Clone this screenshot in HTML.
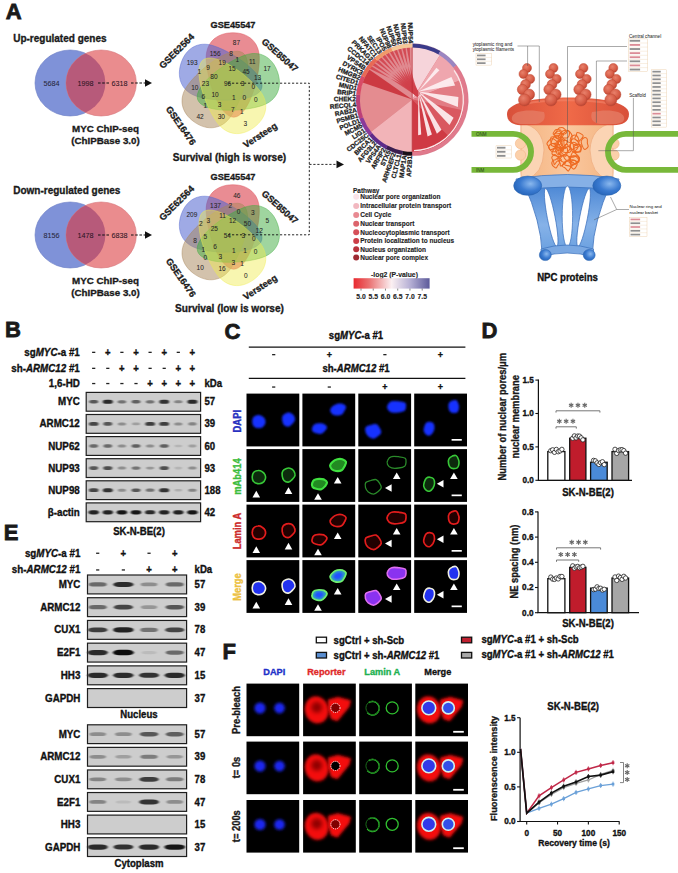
<!DOCTYPE html>
<html><head><meta charset="utf-8"><style>
html,body{margin:0;padding:0;background:#fff;}
svg{display:block;font-family:"Liberation Sans",sans-serif;}
</style></head><body>
<svg width="678" height="873" viewBox="0 0 678 873">
<defs><clipPath id="cl0"><ellipse cx="70.2" cy="83" rx="35.2" ry="33"/></clipPath><clipPath id="cl152"><ellipse cx="70.2" cy="235" rx="35.2" ry="33"/></clipPath><filter id="bb" x="-50%" y="-200%" width="200%" height="500%"><feGaussianBlur stdDeviation="0.9 0.55"/></filter><filter id="bb2" x="-50%" y="-200%" width="200%" height="500%"><feGaussianBlur stdDeviation="0.5"/></filter><filter id="b1" x="-50%" y="-50%" width="200%" height="200%"><feGaussianBlur stdDeviation="1.2"/></filter><filter id="b05" x="-50%" y="-50%" width="200%" height="200%"><feGaussianBlur stdDeviation="0.5"/></filter><filter id="b2" x="-50%" y="-50%" width="200%" height="200%"><feGaussianBlur stdDeviation="2.2"/></filter><filter id="b3" x="-50%" y="-50%" width="200%" height="200%"><feGaussianBlur stdDeviation="1.6"/></filter><linearGradient id="cbar" x1="0" x2="1" y1="0" y2="0"><stop offset="0" stop-color="#e82a30"/><stop offset="0.2" stop-color="#ea7070"/><stop offset="0.5" stop-color="#fbf0f2"/><stop offset="0.75" stop-color="#b4aed4"/><stop offset="1" stop-color="#5c5a9a"/></linearGradient><linearGradient id="ringg" x1="0" x2="1" y1="0" y2="0"><stop offset="0" stop-color="#d8503a"/><stop offset="0.5" stop-color="#f06a48"/><stop offset="1" stop-color="#d8503a"/></linearGradient><radialGradient id="bead" cx="0.4" cy="0.35" r="0.7"><stop offset="0" stop-color="#e8806a"/><stop offset="0.7" stop-color="#d45842"/><stop offset="1" stop-color="#b04030"/></radialGradient><linearGradient id="bodyg" x1="0" x2="1" y1="0" y2="0"><stop offset="0" stop-color="#f4b480"/><stop offset="0.5" stop-color="#fac8a0"/><stop offset="1" stop-color="#f4b480"/></linearGradient><radialGradient id="knob" cx="0.6" cy="0.4" r="0.75"><stop offset="0" stop-color="#8ab8ee"/><stop offset="0.5" stop-color="#3a7ad0"/><stop offset="1" stop-color="#1e5cb0"/></radialGradient><linearGradient id="basg" x1="0" x2="0" y1="0" y2="1"><stop offset="0" stop-color="#4a86d4"/><stop offset="0.6" stop-color="#86b2e8"/><stop offset="1" stop-color="#6aa0e0"/></linearGradient></defs>
<rect width="678" height="873" fill="#fff"/>
<text x="5.80" y="19.30" font-size="22" font-weight="bold" stroke="#1a1a1a" stroke-width="0.8" text-anchor="start" fill="#1a1a1a" >A</text>
<text x="13.20" y="42.00" font-size="10.0" font-weight="bold" stroke="#1a1a1a" stroke-width="0.32" text-anchor="start" fill="#1a1a1a" >Up-regulated genes</text>
<ellipse cx="70.2" cy="83" rx="35.2" ry="33" fill="#7f92d8" stroke="#6a7cc4" stroke-width="0.6"/>
<ellipse cx="101.2" cy="83" rx="35.2" ry="33" fill="#ea8c8e" stroke="#d77478" stroke-width="0.6"/>
<ellipse cx="101.2" cy="83" rx="35.2" ry="33" fill="#b75a7a" clip-path="url(#cl0)"/>
<text x="51.50" y="85.60" font-size="7.2" stroke="#26263a" stroke-width="0.05" text-anchor="middle" fill="#26263a" >5684</text>
<text x="85.50" y="85.60" font-size="7.2" stroke="#2a1424" stroke-width="0.05" text-anchor="middle" fill="#2a1424" >1998</text>
<text x="119.50" y="85.60" font-size="7.2" stroke="#2a1424" stroke-width="0.05" text-anchor="middle" fill="#2a1424" >6318</text>
<line x1="98" y1="83" x2="109" y2="83" stroke="#111" stroke-width="1.1" stroke-dasharray="2.6,1.6"/>
<line x1="131" y1="83" x2="145" y2="83" stroke="#111" stroke-width="1.1" stroke-dasharray="2.6,1.6"/>
<polygon points="145,79.3 152,83 145,86.7" fill="#111"/>
<text x="105.50" y="131.90" font-size="9.8" font-weight="bold" stroke="#1a1a1a" stroke-width="0.32" text-anchor="middle" fill="#1a1a1a" >MYC ChIP-seq</text>
<text x="105.50" y="143.80" font-size="9.8" font-weight="bold" stroke="#1a1a1a" stroke-width="0.32" text-anchor="middle" fill="#1a1a1a" >(ChIPBase 3.0)</text>
<text x="13.20" y="194.00" font-size="10.0" font-weight="bold" stroke="#1a1a1a" stroke-width="0.32" text-anchor="start" fill="#1a1a1a" >Down-regulated genes</text>
<ellipse cx="70.2" cy="235" rx="35.2" ry="33" fill="#7f92d8" stroke="#6a7cc4" stroke-width="0.6"/>
<ellipse cx="101.2" cy="235" rx="35.2" ry="33" fill="#ea8c8e" stroke="#d77478" stroke-width="0.6"/>
<ellipse cx="101.2" cy="235" rx="35.2" ry="33" fill="#b75a7a" clip-path="url(#cl152)"/>
<text x="51.50" y="237.60" font-size="7.2" stroke="#26263a" stroke-width="0.05" text-anchor="middle" fill="#26263a" >8156</text>
<text x="85.50" y="237.60" font-size="7.2" stroke="#2a1424" stroke-width="0.05" text-anchor="middle" fill="#2a1424" >1478</text>
<text x="119.50" y="237.60" font-size="7.2" stroke="#2a1424" stroke-width="0.05" text-anchor="middle" fill="#2a1424" >6838</text>
<line x1="98" y1="235" x2="109" y2="235" stroke="#111" stroke-width="1.1" stroke-dasharray="2.6,1.6"/>
<line x1="131" y1="235" x2="145" y2="235" stroke="#111" stroke-width="1.1" stroke-dasharray="2.6,1.6"/>
<polygon points="145,231.3 152,235 145,238.7" fill="#111"/>
<text x="105.50" y="283.90" font-size="9.8" font-weight="bold" stroke="#1a1a1a" stroke-width="0.32" text-anchor="middle" fill="#1a1a1a" >MYC ChIP-seq</text>
<text x="105.50" y="295.80" font-size="9.8" font-weight="bold" stroke="#1a1a1a" stroke-width="0.32" text-anchor="middle" fill="#1a1a1a" >(ChIPBase 3.0)</text>
<path d="M0 -39.1 C16.49 -39.1 26.6 -28.93 26.6 -14 C26.6 8.00 14.00 45.4 0 45.4 C-14.00 45.4 -26.6 8.00 -26.6 -14 C-26.6 -28.93 -16.49 -39.1 0 -39.1 Z" transform="translate(232.97 71.82) rotate(-1.00)" fill="#dc4650" fill-opacity="0.62" stroke="#dc4650" stroke-opacity="0.8" stroke-width="0.5"/>
<path d="M0 -39.1 C16.49 -39.1 26.6 -28.93 26.6 -14 C26.6 8.00 14.00 45.4 0 45.4 C-14.00 45.4 -26.6 8.00 -26.6 -14 C-26.6 -28.93 -16.49 -39.1 0 -39.1 Z" transform="translate(218.28 75.05) rotate(287.00)" fill="#5064d0" fill-opacity="0.55" stroke="#5064d0" stroke-opacity="0.8" stroke-width="0.5"/>
<path d="M0 -39.1 C16.49 -39.1 26.6 -28.93 26.6 -14 C26.6 8.00 14.00 45.4 0 45.4 C-14.00 45.4 -26.6 8.00 -26.6 -14 C-26.6 -28.93 -16.49 -39.1 0 -39.1 Z" transform="translate(216.81 90.03) rotate(215.00)" fill="#a8865a" fill-opacity="0.5" stroke="#a8865a" stroke-opacity="0.8" stroke-width="0.5"/>
<path d="M0 -39.1 C16.49 -39.1 26.6 -28.93 26.6 -14 C26.6 8.00 14.00 45.4 0 45.4 C-14.00 45.4 -26.6 8.00 -26.6 -14 C-26.6 -28.93 -16.49 -39.1 0 -39.1 Z" transform="translate(240.59 84.80) rotate(71.00)" fill="#40ac40" fill-opacity="0.5" stroke="#40ac40" stroke-opacity="0.8" stroke-width="0.5"/>
<path d="M0 -39.1 C16.49 -39.1 26.6 -28.93 26.6 -14 C26.6 8.00 14.00 45.4 0 45.4 C-14.00 45.4 -26.6 8.00 -26.6 -14 C-26.6 -28.93 -16.49 -39.1 0 -39.1 Z" transform="translate(230.60 96.05) rotate(143.00)" fill="#f0ec50" fill-opacity="0.45" stroke="#f0ec50" stroke-opacity="0.8" stroke-width="0.5"/>
<text x="236.40" y="45.00" font-size="6.5" stroke="#262626" stroke-width="0.05" text-anchor="middle" fill="#262626" >87</text>
<text x="215.10" y="55.60" font-size="6.5" stroke="#262626" stroke-width="0.05" text-anchor="middle" fill="#262626" >156</text>
<text x="231.10" y="55.60" font-size="6.5" stroke="#262626" stroke-width="0.05" text-anchor="middle" fill="#262626" >8</text>
<text x="192.10" y="64.50" font-size="6.5" stroke="#262626" stroke-width="0.05" text-anchor="middle" fill="#262626" >193</text>
<text x="237.30" y="61.80" font-size="6.5" stroke="#262626" stroke-width="0.05" text-anchor="middle" fill="#262626" >1</text>
<text x="252.30" y="63.60" font-size="6.5" stroke="#262626" stroke-width="0.05" text-anchor="middle" fill="#262626" >11</text>
<text x="267.00" y="70.70" font-size="6.5" stroke="#262626" stroke-width="0.05" text-anchor="middle" fill="#262626" >17</text>
<text x="208.00" y="69.80" font-size="6.5" stroke="#262626" stroke-width="0.05" text-anchor="middle" fill="#262626" >9</text>
<text x="222.20" y="65.30" font-size="6.5" stroke="#262626" stroke-width="0.05" text-anchor="middle" fill="#262626" >19</text>
<text x="232.00" y="70.70" font-size="6.5" stroke="#262626" stroke-width="0.05" text-anchor="middle" fill="#262626" >15</text>
<text x="246.10" y="73.70" font-size="6.5" stroke="#262626" stroke-width="0.05" text-anchor="middle" fill="#262626" >45</text>
<text x="199.20" y="73.70" font-size="6.5" stroke="#262626" stroke-width="0.05" text-anchor="middle" fill="#262626" >1</text>
<text x="213.90" y="78.60" font-size="6.5" stroke="#262626" stroke-width="0.05" text-anchor="middle" fill="#262626" >80</text>
<text x="257.60" y="80.40" font-size="6.5" stroke="#262626" stroke-width="0.05" text-anchor="middle" fill="#262626" >13</text>
<text x="205.40" y="85.70" font-size="6.5" stroke="#262626" stroke-width="0.05" text-anchor="middle" fill="#262626" >23</text>
<text x="227.50" y="85.70" font-size="6.5" stroke="#262626" stroke-width="0.05" text-anchor="middle" fill="#262626" >96</text>
<text x="242.60" y="85.70" font-size="6.5" stroke="#262626" stroke-width="0.05" text-anchor="middle" fill="#262626" >3</text>
<text x="253.20" y="89.30" font-size="6.5" stroke="#262626" stroke-width="0.05" text-anchor="middle" fill="#262626" >0</text>
<text x="194.80" y="90.10" font-size="6.5" stroke="#262626" stroke-width="0.05" text-anchor="middle" fill="#262626" >10</text>
<text x="215.10" y="97.20" font-size="6.5" stroke="#262626" stroke-width="0.05" text-anchor="middle" fill="#262626" >10</text>
<text x="203.30" y="99.00" font-size="6.5" stroke="#262626" stroke-width="0.05" text-anchor="middle" fill="#262626" >6</text>
<text x="233.70" y="99.90" font-size="6.5" stroke="#262626" stroke-width="0.05" text-anchor="middle" fill="#262626" >1</text>
<text x="244.30" y="99.90" font-size="6.5" stroke="#262626" stroke-width="0.05" text-anchor="middle" fill="#262626" >0</text>
<text x="255.80" y="101.60" font-size="6.5" stroke="#262626" stroke-width="0.05" text-anchor="middle" fill="#262626" >0</text>
<text x="205.40" y="107.80" font-size="6.5" stroke="#262626" stroke-width="0.05" text-anchor="middle" fill="#262626" >1</text>
<text x="219.60" y="106.90" font-size="6.5" stroke="#262626" stroke-width="0.05" text-anchor="middle" fill="#262626" >3</text>
<text x="232.80" y="112.30" font-size="6.5" stroke="#262626" stroke-width="0.05" text-anchor="middle" fill="#262626" >7</text>
<text x="241.70" y="114.00" font-size="6.5" stroke="#262626" stroke-width="0.05" text-anchor="middle" fill="#262626" >1</text>
<text x="200.10" y="118.50" font-size="6.5" stroke="#262626" stroke-width="0.05" text-anchor="middle" fill="#262626" >42</text>
<text x="221.30" y="118.50" font-size="6.5" stroke="#262626" stroke-width="0.05" text-anchor="middle" fill="#262626" >30</text>
<text x="245.20" y="125.50" font-size="6.5" stroke="#262626" stroke-width="0.05" text-anchor="middle" fill="#262626" >3</text>
<text x="233.00" y="27.50" font-size="9.2" font-weight="bold" stroke="#1a1a1a" stroke-width="0.32" text-anchor="middle" fill="#1a1a1a" >GSE45547</text>
<text x="0" y="3.31" font-size="9.2" font-weight="bold" stroke="#1a1a1a" stroke-width="0.32" text-anchor="middle" fill="#1a1a1a" transform="translate(176.50 51.00) rotate(-45.00)">GSE62564</text>
<text x="0" y="3.31" font-size="9.2" font-weight="bold" stroke="#1a1a1a" stroke-width="0.32" text-anchor="middle" fill="#1a1a1a" transform="translate(280.00 55.00) rotate(42.00)">GSE85047</text>
<text x="0" y="3.31" font-size="9.2" font-weight="bold" stroke="#1a1a1a" stroke-width="0.32" text-anchor="middle" fill="#1a1a1a" transform="translate(181.00 125.50) rotate(55.00)">GSE16476</text>
<text x="0" y="3.31" font-size="9.2" font-weight="bold" stroke="#1a1a1a" stroke-width="0.32" text-anchor="middle" fill="#1a1a1a" transform="translate(260.00 135.00) rotate(-33.00)">Versteeg</text>
<text x="229.50" y="161.00" font-size="10.1" font-weight="bold" stroke="#1a1a1a" stroke-width="0.32" text-anchor="middle" fill="#1a1a1a" >Survival (high is worse)</text>
<path d="M0 -39.1 C16.49 -39.1 26.6 -28.93 26.6 -14 C26.6 8.00 14.00 45.4 0 45.4 C-14.00 45.4 -26.6 8.00 -26.6 -14 C-26.6 -28.93 -16.49 -39.1 0 -39.1 Z" transform="translate(232.97 223.82) rotate(-1.00)" fill="#dc4650" fill-opacity="0.62" stroke="#dc4650" stroke-opacity="0.8" stroke-width="0.5"/>
<path d="M0 -39.1 C16.49 -39.1 26.6 -28.93 26.6 -14 C26.6 8.00 14.00 45.4 0 45.4 C-14.00 45.4 -26.6 8.00 -26.6 -14 C-26.6 -28.93 -16.49 -39.1 0 -39.1 Z" transform="translate(218.28 227.05) rotate(287.00)" fill="#5064d0" fill-opacity="0.55" stroke="#5064d0" stroke-opacity="0.8" stroke-width="0.5"/>
<path d="M0 -39.1 C16.49 -39.1 26.6 -28.93 26.6 -14 C26.6 8.00 14.00 45.4 0 45.4 C-14.00 45.4 -26.6 8.00 -26.6 -14 C-26.6 -28.93 -16.49 -39.1 0 -39.1 Z" transform="translate(216.81 242.03) rotate(215.00)" fill="#a8865a" fill-opacity="0.5" stroke="#a8865a" stroke-opacity="0.8" stroke-width="0.5"/>
<path d="M0 -39.1 C16.49 -39.1 26.6 -28.93 26.6 -14 C26.6 8.00 14.00 45.4 0 45.4 C-14.00 45.4 -26.6 8.00 -26.6 -14 C-26.6 -28.93 -16.49 -39.1 0 -39.1 Z" transform="translate(240.59 236.80) rotate(71.00)" fill="#40ac40" fill-opacity="0.5" stroke="#40ac40" stroke-opacity="0.8" stroke-width="0.5"/>
<path d="M0 -39.1 C16.49 -39.1 26.6 -28.93 26.6 -14 C26.6 8.00 14.00 45.4 0 45.4 C-14.00 45.4 -26.6 8.00 -26.6 -14 C-26.6 -28.93 -16.49 -39.1 0 -39.1 Z" transform="translate(230.60 248.05) rotate(143.00)" fill="#f0ec50" fill-opacity="0.45" stroke="#f0ec50" stroke-opacity="0.8" stroke-width="0.5"/>
<text x="236.80" y="197.70" font-size="6.5" stroke="#262626" stroke-width="0.05" text-anchor="middle" fill="#262626" >46</text>
<text x="215.50" y="208.30" font-size="6.5" stroke="#262626" stroke-width="0.05" text-anchor="middle" fill="#262626" >137</text>
<text x="230.40" y="207.60" font-size="6.5" stroke="#262626" stroke-width="0.05" text-anchor="middle" fill="#262626" >2</text>
<text x="191.90" y="217.00" font-size="6.5" stroke="#262626" stroke-width="0.05" text-anchor="middle" fill="#262626" >209</text>
<text x="238.60" y="213.70" font-size="6.5" stroke="#262626" stroke-width="0.05" text-anchor="middle" fill="#262626" >0</text>
<text x="252.80" y="215.40" font-size="6.5" stroke="#262626" stroke-width="0.05" text-anchor="middle" fill="#262626" >3</text>
<text x="267.40" y="223.20" font-size="6.5" stroke="#262626" stroke-width="0.05" text-anchor="middle" fill="#262626" >5</text>
<text x="208.40" y="222.50" font-size="6.5" stroke="#262626" stroke-width="0.05" text-anchor="middle" fill="#262626" >3</text>
<text x="222.60" y="218.30" font-size="6.5" stroke="#262626" stroke-width="0.05" text-anchor="middle" fill="#262626" >11</text>
<text x="232.50" y="222.50" font-size="6.5" stroke="#262626" stroke-width="0.05" text-anchor="middle" fill="#262626" >12</text>
<text x="247.40" y="226.00" font-size="6.5" stroke="#262626" stroke-width="0.05" text-anchor="middle" fill="#262626" >50</text>
<text x="200.90" y="226.00" font-size="6.5" stroke="#262626" stroke-width="0.05" text-anchor="middle" fill="#262626" >2</text>
<text x="214.30" y="231.20" font-size="6.5" stroke="#262626" stroke-width="0.05" text-anchor="middle" fill="#262626" >25</text>
<text x="259.20" y="233.10" font-size="6.5" stroke="#262626" stroke-width="0.05" text-anchor="middle" fill="#262626" >12</text>
<text x="205.40" y="239.00" font-size="6.5" stroke="#262626" stroke-width="0.05" text-anchor="middle" fill="#262626" >5</text>
<text x="227.30" y="238.30" font-size="6.5" stroke="#262626" stroke-width="0.05" text-anchor="middle" fill="#262626" >54</text>
<text x="243.40" y="238.30" font-size="6.5" stroke="#262626" stroke-width="0.05" text-anchor="middle" fill="#262626" >3</text>
<text x="253.70" y="241.30" font-size="6.5" stroke="#262626" stroke-width="0.05" text-anchor="middle" fill="#262626" >0</text>
<text x="195.00" y="243.30" font-size="6.5" stroke="#262626" stroke-width="0.05" text-anchor="middle" fill="#262626" >8</text>
<text x="215.00" y="249.10" font-size="6.5" stroke="#262626" stroke-width="0.05" text-anchor="middle" fill="#262626" >6</text>
<text x="203.20" y="251.50" font-size="6.5" stroke="#262626" stroke-width="0.05" text-anchor="middle" fill="#262626" >1</text>
<text x="233.90" y="252.70" font-size="6.5" stroke="#262626" stroke-width="0.05" text-anchor="middle" fill="#262626" >1</text>
<text x="245.00" y="252.70" font-size="6.5" stroke="#262626" stroke-width="0.05" text-anchor="middle" fill="#262626" >1</text>
<text x="255.60" y="254.30" font-size="6.5" stroke="#262626" stroke-width="0.05" text-anchor="middle" fill="#262626" >0</text>
<text x="205.40" y="259.50" font-size="6.5" stroke="#262626" stroke-width="0.05" text-anchor="middle" fill="#262626" >0</text>
<text x="220.20" y="259.10" font-size="6.5" stroke="#262626" stroke-width="0.05" text-anchor="middle" fill="#262626" >3</text>
<text x="233.20" y="265.00" font-size="6.5" stroke="#262626" stroke-width="0.05" text-anchor="middle" fill="#262626" >3</text>
<text x="242.00" y="266.10" font-size="6.5" stroke="#262626" stroke-width="0.05" text-anchor="middle" fill="#262626" >1</text>
<text x="200.20" y="270.30" font-size="6.5" stroke="#262626" stroke-width="0.05" text-anchor="middle" fill="#262626" >10</text>
<text x="222.10" y="270.90" font-size="6.5" stroke="#262626" stroke-width="0.05" text-anchor="middle" fill="#262626" >16</text>
<text x="245.70" y="277.90" font-size="6.5" stroke="#262626" stroke-width="0.05" text-anchor="middle" fill="#262626" >0</text>
<text x="233.00" y="179.50" font-size="9.2" font-weight="bold" stroke="#1a1a1a" stroke-width="0.32" text-anchor="middle" fill="#1a1a1a" >GSE45547</text>
<text x="0" y="3.31" font-size="9.2" font-weight="bold" stroke="#1a1a1a" stroke-width="0.32" text-anchor="middle" fill="#1a1a1a" transform="translate(176.50 203.00) rotate(-45.00)">GSE62564</text>
<text x="0" y="3.31" font-size="9.2" font-weight="bold" stroke="#1a1a1a" stroke-width="0.32" text-anchor="middle" fill="#1a1a1a" transform="translate(280.00 207.00) rotate(42.00)">GSE85047</text>
<text x="0" y="3.31" font-size="9.2" font-weight="bold" stroke="#1a1a1a" stroke-width="0.32" text-anchor="middle" fill="#1a1a1a" transform="translate(181.00 277.50) rotate(55.00)">GSE16476</text>
<text x="0" y="3.31" font-size="9.2" font-weight="bold" stroke="#1a1a1a" stroke-width="0.32" text-anchor="middle" fill="#1a1a1a" transform="translate(260.00 287.00) rotate(-33.00)">Versteeg</text>
<text x="229.50" y="311.80" font-size="10.1" font-weight="bold" stroke="#1a1a1a" stroke-width="0.32" text-anchor="middle" fill="#1a1a1a" >Survival (low is worse)</text>
<path d="M228 83.2 H309.3 V234.8 H228" fill="none" stroke="#111" stroke-width="0.9" stroke-dasharray="2.2,1.8"/>
<path d="M309.3 164.4 H337" fill="none" stroke="#111" stroke-width="0.9" stroke-dasharray="2.2,1.8"/>
<polygon points="336.5,160.6 344,164.4 336.5,168.2" fill="#111"/>
<text x="5.00" y="336.50" font-size="22" font-weight="bold" stroke="#1a1a1a" stroke-width="0.8" text-anchor="start" fill="#1a1a1a" >B</text>
<text x="79.80" y="355.80" font-size="9.8" font-weight="bold" stroke="#111" stroke-width="0.32" text-anchor="end" fill="#111" transform="translate(0 -28.464) scale(1 1.08)">sg<tspan font-style="italic">MYC</tspan>-a #1</text>
<text x="79.80" y="371.80" font-size="9.8" font-weight="bold" stroke="#111" stroke-width="0.32" text-anchor="end" fill="#111" transform="translate(0 -29.744) scale(1 1.08)">sh-<tspan font-style="italic">ARMC12</tspan> #1</text>
<text x="79.80" y="387.00" font-size="9.8" font-weight="bold" stroke="#111" stroke-width="0.32" text-anchor="end" fill="#111" transform="translate(0 -30.960) scale(1 1.08)" >1,6-HD</text>
<rect x="92.10" y="351.70" width="3.2" height="1.3" fill="#222"/>
<text x="107.80" y="355.70" font-size="9.5" font-weight="bold" stroke="#111" stroke-width="0.32" text-anchor="middle" fill="#111" transform="translate(0 -28.456) scale(1 1.08)" >+</text>
<rect x="120.30" y="351.70" width="3.2" height="1.3" fill="#222"/>
<text x="136.00" y="355.70" font-size="9.5" font-weight="bold" stroke="#111" stroke-width="0.32" text-anchor="middle" fill="#111" transform="translate(0 -28.456) scale(1 1.08)" >+</text>
<rect x="148.50" y="351.70" width="3.2" height="1.3" fill="#222"/>
<text x="164.20" y="355.70" font-size="9.5" font-weight="bold" stroke="#111" stroke-width="0.32" text-anchor="middle" fill="#111" transform="translate(0 -28.456) scale(1 1.08)" >+</text>
<rect x="176.70" y="351.70" width="3.2" height="1.3" fill="#222"/>
<text x="192.40" y="355.70" font-size="9.5" font-weight="bold" stroke="#111" stroke-width="0.32" text-anchor="middle" fill="#111" transform="translate(0 -28.456) scale(1 1.08)" >+</text>
<rect x="92.10" y="367.70" width="3.2" height="1.3" fill="#222"/>
<rect x="106.20" y="367.70" width="3.2" height="1.3" fill="#222"/>
<text x="121.90" y="371.70" font-size="9.5" font-weight="bold" stroke="#111" stroke-width="0.32" text-anchor="middle" fill="#111" transform="translate(0 -29.736) scale(1 1.08)" >+</text>
<text x="136.00" y="371.70" font-size="9.5" font-weight="bold" stroke="#111" stroke-width="0.32" text-anchor="middle" fill="#111" transform="translate(0 -29.736) scale(1 1.08)" >+</text>
<rect x="148.50" y="367.70" width="3.2" height="1.3" fill="#222"/>
<rect x="162.60" y="367.70" width="3.2" height="1.3" fill="#222"/>
<text x="178.30" y="371.70" font-size="9.5" font-weight="bold" stroke="#111" stroke-width="0.32" text-anchor="middle" fill="#111" transform="translate(0 -29.736) scale(1 1.08)" >+</text>
<text x="192.40" y="371.70" font-size="9.5" font-weight="bold" stroke="#111" stroke-width="0.32" text-anchor="middle" fill="#111" transform="translate(0 -29.736) scale(1 1.08)" >+</text>
<rect x="92.10" y="382.90" width="3.2" height="1.3" fill="#222"/>
<rect x="106.20" y="382.90" width="3.2" height="1.3" fill="#222"/>
<rect x="120.30" y="382.90" width="3.2" height="1.3" fill="#222"/>
<rect x="134.40" y="382.90" width="3.2" height="1.3" fill="#222"/>
<text x="150.10" y="386.90" font-size="9.5" font-weight="bold" stroke="#111" stroke-width="0.32" text-anchor="middle" fill="#111" transform="translate(0 -30.952) scale(1 1.08)" >+</text>
<text x="164.20" y="386.90" font-size="9.5" font-weight="bold" stroke="#111" stroke-width="0.32" text-anchor="middle" fill="#111" transform="translate(0 -30.952) scale(1 1.08)" >+</text>
<text x="178.30" y="386.90" font-size="9.5" font-weight="bold" stroke="#111" stroke-width="0.32" text-anchor="middle" fill="#111" transform="translate(0 -30.952) scale(1 1.08)" >+</text>
<text x="192.40" y="386.90" font-size="9.5" font-weight="bold" stroke="#111" stroke-width="0.32" text-anchor="middle" fill="#111" transform="translate(0 -30.952) scale(1 1.08)" >+</text>
<text x="204.50" y="387.00" font-size="9.6" font-weight="bold" stroke="#111" stroke-width="0.32" text-anchor="start" fill="#111" transform="translate(0 -30.960) scale(1 1.08)" >kDa</text>
<rect x="86.20" y="392.40" width="114.40" height="18.80" fill="#cdcdcd" stroke="#1e1e1e" stroke-width="1.2"/>
<rect x="89.12" y="400.00" width="9.15" height="3.60" rx="2.75" ry="1.80" fill="rgb(87,87,87)" filter="url(#bb)"/>
<rect x="102.83" y="399.75" width="9.93" height="4.10" rx="2.98" ry="2.05" fill="rgb(42,42,42)" filter="url(#bb)"/>
<rect x="117.56" y="400.15" width="8.68" height="3.30" rx="2.61" ry="1.65" fill="rgb(114,114,114)" filter="url(#bb)"/>
<rect x="131.50" y="400.05" width="9.00" height="3.50" rx="2.70" ry="1.75" fill="rgb(95,95,95)" filter="url(#bb)"/>
<rect x="145.76" y="400.15" width="8.68" height="3.30" rx="2.61" ry="1.65" fill="rgb(114,114,114)" filter="url(#bb)"/>
<rect x="159.31" y="399.80" width="9.78" height="4.00" rx="2.93" ry="2.00" fill="rgb(51,51,51)" filter="url(#bb)"/>
<rect x="174.11" y="400.25" width="8.37" height="3.10" rx="2.51" ry="1.55" fill="rgb(132,132,132)" filter="url(#bb)"/>
<rect x="187.43" y="399.75" width="9.93" height="4.10" rx="2.98" ry="2.05" fill="rgb(42,42,42)" filter="url(#bb)"/>
<text x="79.80" y="405.40" font-size="9.8" font-weight="bold" stroke="#111" stroke-width="0.32" text-anchor="end" fill="#111" transform="translate(0 -32.432) scale(1 1.08)" >MYC</text>
<text x="204.50" y="405.40" font-size="9.6" font-weight="bold" stroke="#111" stroke-width="0.32" text-anchor="start" fill="#111" transform="translate(0 -32.432) scale(1 1.08)" >57</text>
<rect x="86.20" y="414.50" width="114.40" height="18.80" fill="#cdcdcd" stroke="#1e1e1e" stroke-width="1.2"/>
<rect x="88.97" y="422.00" width="9.46" height="3.80" rx="2.84" ry="1.90" fill="rgb(69,69,69)" filter="url(#bb)"/>
<rect x="103.22" y="422.10" width="9.15" height="3.60" rx="2.75" ry="1.80" fill="rgb(87,87,87)" filter="url(#bb)"/>
<rect x="117.79" y="422.40" width="8.22" height="3.00" rx="2.46" ry="1.50" fill="rgb(141,141,141)" filter="url(#bb)"/>
<rect x="132.05" y="422.50" width="7.90" height="2.80" rx="2.37" ry="1.40" fill="rgb(159,159,159)" filter="url(#bb)"/>
<rect x="145.29" y="421.95" width="9.62" height="3.90" rx="2.89" ry="1.95" fill="rgb(60,60,60)" filter="url(#bb)"/>
<rect x="159.39" y="421.95" width="9.62" height="3.90" rx="2.89" ry="1.95" fill="rgb(60,60,60)" filter="url(#bb)"/>
<rect x="174.19" y="422.40" width="8.22" height="3.00" rx="2.46" ry="1.50" fill="rgb(141,141,141)" filter="url(#bb)"/>
<rect x="188.21" y="422.35" width="8.37" height="3.10" rx="2.51" ry="1.55" fill="rgb(132,132,132)" filter="url(#bb)"/>
<text x="79.80" y="427.50" font-size="9.8" font-weight="bold" stroke="#111" stroke-width="0.32" text-anchor="end" fill="#111" transform="translate(0 -34.200) scale(1 1.08)" >ARMC12</text>
<text x="204.50" y="427.50" font-size="9.6" font-weight="bold" stroke="#111" stroke-width="0.32" text-anchor="start" fill="#111" transform="translate(0 -34.200) scale(1 1.08)" >39</text>
<rect x="86.20" y="436.60" width="114.40" height="18.80" fill="#cdcdcd" stroke="#1e1e1e" stroke-width="1.2"/>
<rect x="89.28" y="444.30" width="8.84" height="3.40" rx="2.65" ry="1.70" fill="rgb(105,105,105)" filter="url(#bb)"/>
<rect x="103.38" y="444.30" width="8.84" height="3.40" rx="2.65" ry="1.70" fill="rgb(105,105,105)" filter="url(#bb)"/>
<rect x="117.79" y="444.50" width="8.22" height="3.00" rx="2.46" ry="1.50" fill="rgb(141,141,141)" filter="url(#bb)"/>
<rect x="131.50" y="444.25" width="9.00" height="3.50" rx="2.70" ry="1.75" fill="rgb(95,95,95)" filter="url(#bb)"/>
<rect x="145.99" y="444.50" width="8.22" height="3.00" rx="2.46" ry="1.50" fill="rgb(141,141,141)" filter="url(#bb)"/>
<rect x="159.70" y="444.25" width="9.00" height="3.50" rx="2.70" ry="1.75" fill="rgb(95,95,95)" filter="url(#bb)"/>
<rect x="174.54" y="444.72" width="7.53" height="2.56" rx="2.26" ry="1.28" fill="rgb(180,180,180)" filter="url(#bb)"/>
<rect x="188.45" y="444.60" width="7.90" height="2.80" rx="2.37" ry="1.40" fill="rgb(159,159,159)" filter="url(#bb)"/>
<text x="79.80" y="449.60" font-size="9.8" font-weight="bold" stroke="#111" stroke-width="0.32" text-anchor="end" fill="#111" transform="translate(0 -35.968) scale(1 1.08)" >NUP62</text>
<text x="204.50" y="449.60" font-size="9.6" font-weight="bold" stroke="#111" stroke-width="0.32" text-anchor="start" fill="#111" transform="translate(0 -35.968) scale(1 1.08)" >60</text>
<rect x="86.20" y="458.70" width="114.40" height="18.80" fill="#cdcdcd" stroke="#1e1e1e" stroke-width="1.2"/>
<rect x="89.12" y="466.30" width="9.15" height="3.60" rx="2.75" ry="1.80" fill="rgb(87,87,87)" filter="url(#bb)"/>
<rect x="103.15" y="466.25" width="9.31" height="3.70" rx="2.79" ry="1.85" fill="rgb(78,78,78)" filter="url(#bb)"/>
<rect x="117.79" y="466.60" width="8.22" height="3.00" rx="2.46" ry="1.50" fill="rgb(141,141,141)" filter="url(#bb)"/>
<rect x="131.66" y="466.45" width="8.68" height="3.30" rx="2.61" ry="1.65" fill="rgb(114,114,114)" filter="url(#bb)"/>
<rect x="146.07" y="466.65" width="8.06" height="2.90" rx="2.42" ry="1.45" fill="rgb(150,150,150)" filter="url(#bb)"/>
<rect x="159.55" y="466.25" width="9.31" height="3.70" rx="2.79" ry="1.85" fill="rgb(78,78,78)" filter="url(#bb)"/>
<rect x="174.54" y="466.82" width="7.53" height="2.56" rx="2.26" ry="1.28" fill="rgb(180,180,180)" filter="url(#bb)"/>
<rect x="188.29" y="466.60" width="8.22" height="3.00" rx="2.46" ry="1.50" fill="rgb(141,141,141)" filter="url(#bb)"/>
<text x="79.80" y="471.70" font-size="9.8" font-weight="bold" stroke="#111" stroke-width="0.32" text-anchor="end" fill="#111" transform="translate(0 -37.736) scale(1 1.08)" >NUP93</text>
<text x="204.50" y="471.70" font-size="9.6" font-weight="bold" stroke="#111" stroke-width="0.32" text-anchor="start" fill="#111" transform="translate(0 -37.736) scale(1 1.08)" >93</text>
<rect x="86.20" y="480.80" width="114.40" height="18.80" fill="#cdcdcd" stroke="#1e1e1e" stroke-width="1.2"/>
<rect x="88.97" y="488.30" width="9.46" height="3.80" rx="2.84" ry="1.90" fill="rgb(69,69,69)" filter="url(#bb)"/>
<rect x="102.91" y="488.20" width="9.78" height="4.00" rx="2.93" ry="2.00" fill="rgb(51,51,51)" filter="url(#bb)"/>
<rect x="117.79" y="488.70" width="8.22" height="3.00" rx="2.46" ry="1.50" fill="rgb(141,141,141)" filter="url(#bb)"/>
<rect x="131.42" y="488.40" width="9.15" height="3.60" rx="2.75" ry="1.80" fill="rgb(87,87,87)" filter="url(#bb)"/>
<rect x="145.76" y="488.55" width="8.68" height="3.30" rx="2.61" ry="1.65" fill="rgb(114,114,114)" filter="url(#bb)"/>
<rect x="159.31" y="488.20" width="9.78" height="4.00" rx="2.93" ry="2.00" fill="rgb(51,51,51)" filter="url(#bb)"/>
<rect x="174.47" y="488.88" width="7.65" height="2.64" rx="2.30" ry="1.32" fill="rgb(173,173,173)" filter="url(#bb)"/>
<rect x="188.21" y="488.65" width="8.37" height="3.10" rx="2.51" ry="1.55" fill="rgb(132,132,132)" filter="url(#bb)"/>
<text x="79.80" y="493.80" font-size="9.8" font-weight="bold" stroke="#111" stroke-width="0.32" text-anchor="end" fill="#111" transform="translate(0 -39.504) scale(1 1.08)" >NUP98</text>
<text x="204.50" y="493.80" font-size="9.6" font-weight="bold" stroke="#111" stroke-width="0.32" text-anchor="start" fill="#111" transform="translate(0 -39.504) scale(1 1.08)" >188</text>
<rect x="86.20" y="502.90" width="114.40" height="18.80" fill="#cdcdcd" stroke="#1e1e1e" stroke-width="1.2"/>
<rect x="88.66" y="510.20" width="10.09" height="4.20" rx="3.03" ry="2.10" fill="rgb(33,33,33)" filter="url(#bb)"/>
<rect x="102.76" y="510.20" width="10.09" height="4.20" rx="3.03" ry="2.10" fill="rgb(33,33,33)" filter="url(#bb)"/>
<rect x="116.78" y="510.15" width="10.24" height="4.30" rx="3.07" ry="2.15" fill="rgb(24,24,24)" filter="url(#bb)"/>
<rect x="130.88" y="510.15" width="10.24" height="4.30" rx="3.07" ry="2.15" fill="rgb(24,24,24)" filter="url(#bb)"/>
<rect x="145.13" y="510.25" width="9.93" height="4.10" rx="2.98" ry="2.05" fill="rgb(42,42,42)" filter="url(#bb)"/>
<rect x="159.16" y="510.20" width="10.09" height="4.20" rx="3.03" ry="2.10" fill="rgb(33,33,33)" filter="url(#bb)"/>
<rect x="173.26" y="510.20" width="10.09" height="4.20" rx="3.03" ry="2.10" fill="rgb(33,33,33)" filter="url(#bb)"/>
<rect x="187.28" y="510.15" width="10.24" height="4.30" rx="3.07" ry="2.15" fill="rgb(24,24,24)" filter="url(#bb)"/>
<text x="79.80" y="515.90" font-size="9.8" font-weight="bold" stroke="#111" stroke-width="0.32" text-anchor="end" fill="#111" transform="translate(0 -41.272) scale(1 1.08)" >&#946;-actin</text>
<text x="204.50" y="515.90" font-size="9.6" font-weight="bold" stroke="#111" stroke-width="0.32" text-anchor="start" fill="#111" transform="translate(0 -41.272) scale(1 1.08)" >42</text>
<text x="139.00" y="535.30" font-size="9.6" font-weight="bold" stroke="#111" stroke-width="0.32" text-anchor="middle" fill="#111" transform="translate(0 -42.824) scale(1 1.08)" >SK-N-BE(2)</text>
<text x="3.80" y="540.00" font-size="22" font-weight="bold" stroke="#1a1a1a" stroke-width="0.8" text-anchor="start" fill="#1a1a1a" >E</text>
<text x="80.40" y="556.70" font-size="9.8" font-weight="bold" stroke="#111" stroke-width="0.32" text-anchor="end" fill="#111" transform="translate(0 -44.536) scale(1 1.08)">sg<tspan font-style="italic">MYC</tspan>-a #1</text>
<text x="80.40" y="573.40" font-size="9.8" font-weight="bold" stroke="#111" stroke-width="0.32" text-anchor="end" fill="#111" transform="translate(0 -45.872) scale(1 1.08)">sh-<tspan font-style="italic">ARMC12</tspan> #1</text>
<rect x="96.10" y="552.60" width="3.2" height="1.3" fill="#222"/>
<text x="123.37" y="556.60" font-size="9.5" font-weight="bold" stroke="#111" stroke-width="0.32" text-anchor="middle" fill="#111" transform="translate(0 -44.528) scale(1 1.08)" >+</text>
<rect x="147.44" y="552.60" width="3.2" height="1.3" fill="#222"/>
<text x="174.71" y="556.60" font-size="9.5" font-weight="bold" stroke="#111" stroke-width="0.32" text-anchor="middle" fill="#111" transform="translate(0 -44.528) scale(1 1.08)" >+</text>
<rect x="96.10" y="569.30" width="3.2" height="1.3" fill="#222"/>
<rect x="121.77" y="569.30" width="3.2" height="1.3" fill="#222"/>
<text x="149.04" y="573.30" font-size="9.5" font-weight="bold" stroke="#111" stroke-width="0.32" text-anchor="middle" fill="#111" transform="translate(0 -45.864) scale(1 1.08)" >+</text>
<text x="174.71" y="573.30" font-size="9.5" font-weight="bold" stroke="#111" stroke-width="0.32" text-anchor="middle" fill="#111" transform="translate(0 -45.864) scale(1 1.08)" >+</text>
<text x="194.60" y="573.40" font-size="9.6" font-weight="bold" stroke="#111" stroke-width="0.32" text-anchor="start" fill="#111" transform="translate(0 -45.872) scale(1 1.08)" >kDa</text>
<rect x="87.50" y="575.00" width="99.10" height="18.90" fill="#cdcdcd" stroke="#1e1e1e" stroke-width="1.2"/>
<rect x="88.78" y="582.33" width="17.85" height="4.25" rx="5.35" ry="2.12" fill="rgb(105,105,105)" filter="url(#bb)"/>
<rect x="113.34" y="581.89" width="20.05" height="5.12" rx="6.02" ry="2.56" fill="rgb(42,42,42)" filter="url(#bb)"/>
<rect x="140.75" y="582.58" width="16.59" height="3.75" rx="4.98" ry="1.88" fill="rgb(141,141,141)" filter="url(#bb)"/>
<rect x="165.78" y="582.33" width="17.85" height="4.25" rx="5.35" ry="2.12" fill="rgb(105,105,105)" filter="url(#bb)"/>
<text x="80.40" y="588.00" font-size="9.8" font-weight="bold" stroke="#111" stroke-width="0.32" text-anchor="end" fill="#111" transform="translate(0 -47.040) scale(1 1.08)" >MYC</text>
<text x="194.60" y="588.00" font-size="9.6" font-weight="bold" stroke="#111" stroke-width="0.32" text-anchor="start" fill="#111" transform="translate(0 -47.040) scale(1 1.08)" >57</text>
<rect x="87.50" y="597.72" width="99.10" height="18.90" fill="#cdcdcd" stroke="#1e1e1e" stroke-width="1.2"/>
<rect x="88.78" y="605.05" width="17.85" height="4.25" rx="5.35" ry="2.12" fill="rgb(105,105,105)" filter="url(#bb)"/>
<rect x="113.81" y="604.80" width="19.11" height="4.75" rx="5.73" ry="2.38" fill="rgb(69,69,69)" filter="url(#bb)"/>
<rect x="140.90" y="605.36" width="16.27" height="3.62" rx="4.88" ry="1.81" fill="rgb(150,150,150)" filter="url(#bb)"/>
<rect x="165.47" y="604.92" width="18.48" height="4.50" rx="5.54" ry="2.25" fill="rgb(87,87,87)" filter="url(#bb)"/>
<text x="80.40" y="610.72" font-size="9.8" font-weight="bold" stroke="#111" stroke-width="0.32" text-anchor="end" fill="#111" transform="translate(0 -48.858) scale(1 1.08)" >ARMC12</text>
<text x="194.60" y="610.72" font-size="9.6" font-weight="bold" stroke="#111" stroke-width="0.32" text-anchor="start" fill="#111" transform="translate(0 -48.858) scale(1 1.08)" >39</text>
<rect x="87.50" y="620.44" width="99.10" height="18.90" fill="#cdcdcd" stroke="#1e1e1e" stroke-width="1.2"/>
<rect x="87.99" y="627.45" width="19.42" height="4.88" rx="5.83" ry="2.44" fill="rgb(60,60,60)" filter="url(#bb)"/>
<rect x="113.19" y="627.27" width="20.37" height="5.25" rx="6.11" ry="2.62" fill="rgb(33,33,33)" filter="url(#bb)"/>
<rect x="140.27" y="627.83" width="17.54" height="4.12" rx="5.26" ry="2.06" fill="rgb(114,114,114)" filter="url(#bb)"/>
<rect x="165.16" y="627.52" width="19.11" height="4.75" rx="5.73" ry="2.38" fill="rgb(69,69,69)" filter="url(#bb)"/>
<text x="80.40" y="633.44" font-size="9.8" font-weight="bold" stroke="#111" stroke-width="0.32" text-anchor="end" fill="#111" transform="translate(0 -50.675) scale(1 1.08)" >CUX1</text>
<text x="194.60" y="633.44" font-size="9.6" font-weight="bold" stroke="#111" stroke-width="0.32" text-anchor="start" fill="#111" transform="translate(0 -50.675) scale(1 1.08)" >78</text>
<rect x="87.50" y="643.16" width="99.10" height="18.90" fill="#cdcdcd" stroke="#1e1e1e" stroke-width="1.2"/>
<rect x="87.67" y="650.05" width="20.05" height="5.12" rx="6.02" ry="2.56" fill="rgb(42,42,42)" filter="url(#bb)"/>
<rect x="112.87" y="649.86" width="21.00" height="5.50" rx="6.30" ry="2.75" fill="rgb(15,15,15)" filter="url(#bb)"/>
<rect x="141.56" y="651.06" width="14.95" height="3.10" rx="4.49" ry="1.55" fill="rgb(187,187,187)" filter="url(#bb)"/>
<rect x="165.78" y="650.49" width="17.85" height="4.25" rx="5.35" ry="2.12" fill="rgb(105,105,105)" filter="url(#bb)"/>
<text x="80.40" y="656.16" font-size="9.8" font-weight="bold" stroke="#111" stroke-width="0.32" text-anchor="end" fill="#111" transform="translate(0 -52.493) scale(1 1.08)" >E2F1</text>
<text x="194.60" y="656.16" font-size="9.6" font-weight="bold" stroke="#111" stroke-width="0.32" text-anchor="start" fill="#111" transform="translate(0 -52.493) scale(1 1.08)" >47</text>
<rect x="87.50" y="665.88" width="99.10" height="18.90" fill="#cdcdcd" stroke="#1e1e1e" stroke-width="1.2"/>
<rect x="87.67" y="672.77" width="20.05" height="5.12" rx="6.02" ry="2.56" fill="rgb(42,42,42)" filter="url(#bb)"/>
<rect x="113.34" y="672.77" width="20.05" height="5.12" rx="6.02" ry="2.56" fill="rgb(42,42,42)" filter="url(#bb)"/>
<rect x="139.17" y="672.83" width="19.74" height="5.00" rx="5.92" ry="2.50" fill="rgb(51,51,51)" filter="url(#bb)"/>
<rect x="164.68" y="672.77" width="20.05" height="5.12" rx="6.02" ry="2.56" fill="rgb(42,42,42)" filter="url(#bb)"/>
<text x="80.40" y="678.88" font-size="9.8" font-weight="bold" stroke="#111" stroke-width="0.32" text-anchor="end" fill="#111" transform="translate(0 -54.310) scale(1 1.08)" >HH3</text>
<text x="194.60" y="678.88" font-size="9.6" font-weight="bold" stroke="#111" stroke-width="0.32" text-anchor="start" fill="#111" transform="translate(0 -54.310) scale(1 1.08)" >15</text>
<rect x="87.50" y="688.60" width="99.10" height="18.90" fill="#cdcdcd" stroke="#1e1e1e" stroke-width="1.2"/>
<text x="80.40" y="701.60" font-size="9.8" font-weight="bold" stroke="#111" stroke-width="0.32" text-anchor="end" fill="#111" transform="translate(0 -56.128) scale(1 1.08)" >GAPDH</text>
<text x="194.60" y="701.60" font-size="9.6" font-weight="bold" stroke="#111" stroke-width="0.32" text-anchor="start" fill="#111" transform="translate(0 -56.128) scale(1 1.08)" >37</text>
<text x="139.00" y="718.20" font-size="9.6" font-weight="bold" stroke="#111" stroke-width="0.32" text-anchor="middle" fill="#111" transform="translate(0 -57.456) scale(1 1.08)" >Nucleus</text>
<rect x="87.50" y="724.80" width="99.10" height="18.80" fill="#cdcdcd" stroke="#1e1e1e" stroke-width="1.2"/>
<rect x="89.41" y="732.32" width="16.59" height="3.75" rx="4.98" ry="1.88" fill="rgb(141,141,141)" filter="url(#bb)"/>
<rect x="115.08" y="732.32" width="16.59" height="3.75" rx="4.98" ry="1.88" fill="rgb(141,141,141)" filter="url(#bb)"/>
<rect x="139.80" y="731.95" width="18.48" height="4.50" rx="5.54" ry="2.25" fill="rgb(87,87,87)" filter="url(#bb)"/>
<rect x="165.63" y="732.01" width="18.16" height="4.38" rx="5.45" ry="2.19" fill="rgb(95,95,95)" filter="url(#bb)"/>
<text x="80.40" y="737.80" font-size="9.8" font-weight="bold" stroke="#111" stroke-width="0.32" text-anchor="end" fill="#111" transform="translate(0 -59.024) scale(1 1.08)" >MYC</text>
<text x="194.60" y="737.80" font-size="9.6" font-weight="bold" stroke="#111" stroke-width="0.32" text-anchor="start" fill="#111" transform="translate(0 -59.024) scale(1 1.08)" >57</text>
<rect x="87.50" y="747.38" width="99.10" height="18.80" fill="#cdcdcd" stroke="#1e1e1e" stroke-width="1.2"/>
<rect x="89.41" y="754.90" width="16.59" height="3.75" rx="4.98" ry="1.88" fill="rgb(141,141,141)" filter="url(#bb)"/>
<rect x="115.39" y="755.03" width="15.96" height="3.50" rx="4.79" ry="1.75" fill="rgb(159,159,159)" filter="url(#bb)"/>
<rect x="140.43" y="754.78" width="17.22" height="4.00" rx="5.17" ry="2.00" fill="rgb(123,123,123)" filter="url(#bb)"/>
<rect x="166.57" y="754.97" width="16.27" height="3.62" rx="4.88" ry="1.81" fill="rgb(150,150,150)" filter="url(#bb)"/>
<text x="80.40" y="760.38" font-size="9.8" font-weight="bold" stroke="#111" stroke-width="0.32" text-anchor="end" fill="#111" transform="translate(0 -60.830) scale(1 1.08)" >ARMC12</text>
<text x="194.60" y="760.38" font-size="9.6" font-weight="bold" stroke="#111" stroke-width="0.32" text-anchor="start" fill="#111" transform="translate(0 -60.830) scale(1 1.08)" >39</text>
<rect x="87.50" y="769.96" width="99.10" height="18.80" fill="#cdcdcd" stroke="#1e1e1e" stroke-width="1.2"/>
<rect x="89.25" y="777.42" width="16.90" height="3.87" rx="5.07" ry="1.94" fill="rgb(132,132,132)" filter="url(#bb)"/>
<rect x="115.08" y="777.48" width="16.59" height="3.75" rx="4.98" ry="1.88" fill="rgb(141,141,141)" filter="url(#bb)"/>
<rect x="139.33" y="776.92" width="19.42" height="4.88" rx="5.83" ry="2.44" fill="rgb(60,60,60)" filter="url(#bb)"/>
<rect x="166.10" y="777.36" width="17.22" height="4.00" rx="5.17" ry="2.00" fill="rgb(123,123,123)" filter="url(#bb)"/>
<text x="80.40" y="782.96" font-size="9.8" font-weight="bold" stroke="#111" stroke-width="0.32" text-anchor="end" fill="#111" transform="translate(0 -62.637) scale(1 1.08)" >CUX1</text>
<text x="194.60" y="782.96" font-size="9.6" font-weight="bold" stroke="#111" stroke-width="0.32" text-anchor="start" fill="#111" transform="translate(0 -62.637) scale(1 1.08)" >78</text>
<rect x="87.50" y="792.54" width="99.10" height="18.80" fill="#cdcdcd" stroke="#1e1e1e" stroke-width="1.2"/>
<rect x="89.25" y="800.00" width="16.90" height="3.87" rx="5.07" ry="1.94" fill="rgb(132,132,132)" filter="url(#bb)"/>
<rect x="115.89" y="800.39" width="14.95" height="3.10" rx="4.49" ry="1.55" fill="rgb(187,187,187)" filter="url(#bb)"/>
<rect x="139.17" y="799.44" width="19.74" height="5.00" rx="5.92" ry="2.50" fill="rgb(51,51,51)" filter="url(#bb)"/>
<rect x="166.42" y="800.06" width="16.59" height="3.75" rx="4.98" ry="1.88" fill="rgb(141,141,141)" filter="url(#bb)"/>
<text x="80.40" y="805.54" font-size="9.8" font-weight="bold" stroke="#111" stroke-width="0.32" text-anchor="end" fill="#111" transform="translate(0 -64.443) scale(1 1.08)" >E2F1</text>
<text x="194.60" y="805.54" font-size="9.6" font-weight="bold" stroke="#111" stroke-width="0.32" text-anchor="start" fill="#111" transform="translate(0 -64.443) scale(1 1.08)" >47</text>
<rect x="87.50" y="815.12" width="99.10" height="18.80" fill="#cdcdcd" stroke="#1e1e1e" stroke-width="1.2"/>
<text x="80.40" y="828.12" font-size="9.8" font-weight="bold" stroke="#111" stroke-width="0.32" text-anchor="end" fill="#111" transform="translate(0 -66.250) scale(1 1.08)" >HH3</text>
<text x="194.60" y="828.12" font-size="9.6" font-weight="bold" stroke="#111" stroke-width="0.32" text-anchor="start" fill="#111" transform="translate(0 -66.250) scale(1 1.08)" >15</text>
<rect x="87.50" y="837.70" width="99.10" height="18.80" fill="#cdcdcd" stroke="#1e1e1e" stroke-width="1.2"/>
<rect x="87.67" y="844.54" width="20.05" height="5.12" rx="6.02" ry="2.56" fill="rgb(42,42,42)" filter="url(#bb)"/>
<rect x="113.50" y="844.60" width="19.74" height="5.00" rx="5.92" ry="2.50" fill="rgb(51,51,51)" filter="url(#bb)"/>
<rect x="139.01" y="844.54" width="20.05" height="5.12" rx="6.02" ry="2.56" fill="rgb(42,42,42)" filter="url(#bb)"/>
<rect x="164.37" y="844.41" width="20.68" height="5.38" rx="6.21" ry="2.69" fill="rgb(24,24,24)" filter="url(#bb)"/>
<text x="80.40" y="850.70" font-size="9.8" font-weight="bold" stroke="#111" stroke-width="0.32" text-anchor="end" fill="#111" transform="translate(0 -68.056) scale(1 1.08)" >GAPDH</text>
<text x="194.60" y="850.70" font-size="9.6" font-weight="bold" stroke="#111" stroke-width="0.32" text-anchor="start" fill="#111" transform="translate(0 -68.056) scale(1 1.08)" >37</text>
<text x="139.00" y="866.80" font-size="9.6" font-weight="bold" stroke="#111" stroke-width="0.32" text-anchor="middle" fill="#111" transform="translate(0 -69.344) scale(1 1.08)" >Cytoplasm</text>
<text x="224.50" y="338.80" font-size="22" font-weight="bold" stroke="#1a1a1a" stroke-width="0.8" text-anchor="start" fill="#1a1a1a" >C</text>
<text x="356.00" y="339.50" font-size="9.6" font-weight="bold" stroke="#111" stroke-width="0.32" text-anchor="middle" fill="#111" transform="translate(0 -27.160) scale(1 1.08)">sg<tspan font-style="italic">MYC</tspan>-a #1</text>
<line x1="248.8" y1="347.2" x2="465.4" y2="347.2" stroke="#111" stroke-width="1.3"/>
<text x="356.00" y="371.80" font-size="9.6" font-weight="bold" stroke="#111" stroke-width="0.32" text-anchor="middle" fill="#111" transform="translate(0 -29.744) scale(1 1.08)">sh-<tspan font-style="italic">ARMC12</tspan> #1</text>
<line x1="248.8" y1="378.3" x2="465.4" y2="378.3" stroke="#111" stroke-width="1.3"/>
<rect x="272.10" y="354.00" width="3.2" height="1.3" fill="#222"/>
<text x="329.30" y="358.00" font-size="9" font-weight="bold" stroke="#111" stroke-width="0.32" text-anchor="middle" fill="#111" transform="translate(0 -28.640) scale(1 1.08)" >+</text>
<rect x="383.30" y="354.00" width="3.2" height="1.3" fill="#222"/>
<text x="440.50" y="358.00" font-size="9" font-weight="bold" stroke="#111" stroke-width="0.32" text-anchor="middle" fill="#111" transform="translate(0 -28.640) scale(1 1.08)" >+</text>
<rect x="272.10" y="386.40" width="3.2" height="1.3" fill="#222"/>
<rect x="327.70" y="386.40" width="3.2" height="1.3" fill="#222"/>
<text x="384.90" y="390.40" font-size="9" font-weight="bold" stroke="#111" stroke-width="0.32" text-anchor="middle" fill="#111" transform="translate(0 -31.232) scale(1 1.08)" >+</text>
<text x="440.50" y="390.40" font-size="9" font-weight="bold" stroke="#111" stroke-width="0.32" text-anchor="middle" fill="#111" transform="translate(0 -31.232) scale(1 1.08)" >+</text>
<rect x="246.5" y="393.6" width="52.8" height="52.8" fill="#000"/>
<path d="M265.0 419.2 C265.5 420.4 265.8 422.1 265.3 423.5 C264.9 424.8 263.8 426.5 262.5 427.3 C261.2 428.1 259.1 428.3 257.6 428.1 C256.1 427.9 254.2 427.0 253.4 425.9 C252.5 424.8 252.2 423.0 252.2 421.6 C252.3 420.1 252.5 418.2 253.5 417.1 C254.4 416.0 256.5 415.1 258.0 415.0 C259.4 414.8 261.1 415.5 262.2 416.2 C263.4 416.9 264.5 418.0 265.0 419.2 Z" fill="#1830ff" filter="url(#b1)"/>
<path d="M295.0 420.1 C294.7 421.5 293.4 422.8 292.3 423.9 C291.2 425.0 289.8 426.5 288.4 426.6 C287.0 426.8 284.9 425.9 283.9 424.9 C282.9 423.8 282.4 421.8 282.2 420.3 C282.0 418.7 282.0 416.7 282.8 415.5 C283.5 414.3 285.2 413.4 286.5 412.9 C287.8 412.5 289.4 412.4 290.6 412.9 C291.9 413.3 293.1 414.4 293.9 415.6 C294.6 416.8 295.2 418.8 295.0 420.1 Z" fill="#1830ff" filter="url(#b1)"/>
<rect x="302.4" y="393.6" width="52.8" height="52.8" fill="#000"/>
<path d="M327.0 426.9 C327.2 428.0 326.0 429.6 325.1 430.7 C324.1 431.8 322.8 433.3 321.4 433.7 C319.9 434.2 317.8 433.7 316.3 433.3 C314.8 432.9 313.2 432.3 312.5 431.3 C311.8 430.4 311.8 428.9 312.2 427.7 C312.5 426.5 313.3 425.0 314.5 424.3 C315.7 423.5 317.7 423.4 319.3 423.3 C320.9 423.3 322.6 423.4 323.9 423.9 C325.2 424.5 326.8 425.8 327.0 426.9 Z" fill="#1830ff" filter="url(#b1)"/>
<path d="M346.0 406.4 C346.4 407.6 345.3 409.3 344.6 410.7 C343.8 412.1 343.0 414.0 341.6 414.8 C340.2 415.6 337.7 415.7 336.0 415.5 C334.4 415.3 332.8 414.6 331.8 413.7 C330.9 412.7 329.9 411.2 330.1 410.0 C330.3 408.7 331.7 407.1 332.9 406.1 C334.1 405.0 335.8 404.1 337.3 403.7 C338.9 403.3 340.9 403.3 342.3 403.7 C343.8 404.2 345.6 405.2 346.0 406.4 Z" fill="#1830ff" filter="url(#b1)"/>
<rect x="358.3" y="393.6" width="52.8" height="52.8" fill="#000"/>
<path d="M381.2 432.4 C381.0 433.7 379.5 435.0 378.2 436.1 C377.0 437.1 375.2 438.6 373.6 438.7 C371.9 438.7 369.7 437.5 368.3 436.4 C367.0 435.3 365.9 433.6 365.5 432.1 C365.1 430.5 364.9 428.2 365.8 427.0 C366.7 425.8 369.1 425.5 370.8 425.0 C372.5 424.5 374.6 423.6 376.1 424.1 C377.6 424.6 378.9 426.5 379.7 427.9 C380.6 429.3 381.5 431.0 381.2 432.4 Z" fill="#1830ff" filter="url(#b1)"/>
<path d="M406.0 406.8 C405.9 408.1 405.9 409.7 404.7 410.7 C403.5 411.6 400.9 412.2 398.7 412.5 C396.5 412.8 393.5 413.0 391.6 412.4 C389.7 411.8 388.1 410.2 387.5 408.9 C386.8 407.6 387.0 406.0 387.7 404.8 C388.3 403.5 389.7 401.7 391.6 401.2 C393.4 400.6 396.4 401.0 398.6 401.2 C400.9 401.5 403.9 401.8 405.2 402.7 C406.4 403.6 406.1 405.5 406.0 406.8 Z" fill="#1830ff" filter="url(#b1)"/>
<rect x="414.2" y="393.6" width="52.8" height="52.8" fill="#000"/>
<path d="M434.5 428.3 C434.4 429.8 433.7 431.3 433.0 432.5 C432.2 433.7 431.1 435.1 430.0 435.5 C428.9 435.9 427.1 435.5 426.1 434.7 C425.1 433.9 424.0 432.2 423.7 430.7 C423.4 429.3 424.0 427.5 424.4 426.2 C424.9 424.8 425.5 423.4 426.4 422.6 C427.3 421.9 428.7 421.6 429.9 421.7 C431.1 421.8 432.9 422.3 433.6 423.4 C434.4 424.5 434.6 426.8 434.5 428.3 Z" fill="#1830ff" filter="url(#b1)"/>
<path d="M459.0 407.7 C458.9 409.2 458.3 411.3 457.4 412.2 C456.5 413.1 454.8 413.1 453.7 413.1 C452.5 413.0 451.2 412.8 450.4 412.0 C449.5 411.2 448.8 409.7 448.6 408.2 C448.3 406.8 448.2 404.6 448.9 403.3 C449.5 402.0 451.1 401.2 452.3 400.6 C453.5 400.1 455.1 399.6 456.1 400.1 C457.1 400.6 457.9 402.2 458.3 403.5 C458.8 404.7 459.2 406.2 459.0 407.7 Z" fill="#1830ff" filter="url(#b1)"/>
<rect x="451.60" y="439.00" width="10.2" height="1.7" fill="#fff"/>
<rect x="246.5" y="449.1" width="52.8" height="52.8" fill="#000"/>
<path d="M265.0 474.7 C265.5 475.9 265.8 477.6 265.3 479.0 C264.9 480.3 263.8 482.0 262.5 482.8 C261.2 483.6 259.1 483.8 257.6 483.6 C256.1 483.4 254.2 482.5 253.4 481.4 C252.5 480.3 252.2 478.5 252.2 477.1 C252.3 475.6 252.5 473.7 253.5 472.6 C254.4 471.5 256.5 470.6 258.0 470.5 C259.4 470.3 261.1 471.0 262.2 471.7 C263.4 472.4 264.5 473.5 265.0 474.7 Z" fill="#0a2a0a" stroke="#38c838" stroke-width="1.6" filter="url(#b05)"/>
<path d="M295.0 475.6 C294.7 477.0 293.4 478.3 292.3 479.4 C291.2 480.5 289.8 482.0 288.4 482.1 C287.0 482.3 284.9 481.4 283.9 480.4 C282.9 479.3 282.4 477.3 282.2 475.8 C282.0 474.2 282.0 472.2 282.8 471.0 C283.5 469.8 285.2 468.9 286.5 468.4 C287.8 468.0 289.4 467.9 290.6 468.4 C291.9 468.8 293.1 469.9 293.9 471.1 C294.6 472.3 295.2 474.3 295.0 475.6 Z" fill="#0a2a0a" stroke="#38c838" stroke-width="1.6" filter="url(#b05)"/>
<polygon points="252.50,497.43 260.10,497.43 256.30,490.78" fill="#fff"/>
<polygon points="284.70,493.93 292.30,493.93 288.50,487.28" fill="#fff"/>
<rect x="302.4" y="449.1" width="52.8" height="52.8" fill="#000"/>
<path d="M327.0 482.4 C327.2 483.5 326.0 485.1 325.1 486.2 C324.1 487.3 322.8 488.8 321.4 489.2 C319.9 489.7 317.8 489.2 316.3 488.8 C314.8 488.4 313.2 487.8 312.5 486.8 C311.8 485.9 311.8 484.4 312.2 483.2 C312.5 482.0 313.3 480.5 314.5 479.8 C315.7 479.0 317.7 478.9 319.3 478.8 C320.9 478.8 322.6 478.9 323.9 479.4 C325.2 480.0 326.8 481.3 327.0 482.4 Z" fill="#208a20" stroke="#40e040" stroke-width="2.2" filter="url(#b05)"/>
<path d="M346.0 461.9 C346.4 463.1 345.3 464.8 344.6 466.2 C343.8 467.6 343.0 469.5 341.6 470.3 C340.2 471.1 337.7 471.2 336.0 471.0 C334.4 470.8 332.8 470.1 331.8 469.2 C330.9 468.2 329.9 466.7 330.1 465.5 C330.3 464.2 331.7 462.6 332.9 461.6 C334.1 460.5 335.8 459.6 337.3 459.2 C338.9 458.8 340.9 458.8 342.3 459.2 C343.8 459.7 345.6 460.7 346.0 461.9 Z" fill="#208a20" stroke="#40e040" stroke-width="2.2" filter="url(#b05)"/>
<polygon points="314.20,499.83 321.80,499.83 318.00,493.18" fill="#fff"/>
<polygon points="333.90,483.53 341.50,483.53 337.70,476.88" fill="#fff"/>
<rect x="358.3" y="449.1" width="52.8" height="52.8" fill="#000"/>
<path d="M381.2 487.9 C381.0 489.2 379.5 490.5 378.2 491.6 C377.0 492.6 375.2 494.1 373.6 494.2 C371.9 494.2 369.7 493.0 368.3 491.9 C367.0 490.8 365.9 489.1 365.5 487.6 C365.1 486.0 364.9 483.7 365.8 482.5 C366.7 481.3 369.1 481.0 370.8 480.5 C372.5 480.0 374.6 479.1 376.1 479.6 C377.6 480.1 378.9 482.0 379.7 483.4 C380.6 484.8 381.5 486.5 381.2 487.9 Z" fill="none" stroke="#2a8a2a" stroke-width="1.3" filter="url(#b05)"/>
<path d="M406.0 462.3 C405.9 463.6 405.9 465.2 404.7 466.2 C403.5 467.1 400.9 467.7 398.7 468.0 C396.5 468.3 393.5 468.5 391.6 467.9 C389.7 467.3 388.1 465.7 387.5 464.4 C386.8 463.1 387.0 461.5 387.7 460.3 C388.3 459.0 389.7 457.2 391.6 456.7 C393.4 456.1 396.4 456.5 398.6 456.7 C400.9 457.0 403.9 457.3 405.2 458.2 C406.4 459.1 406.1 461.0 406.0 462.3 Z" fill="none" stroke="#2a8a2a" stroke-width="1.3" filter="url(#b05)"/>
<polygon points="391.63,484.20 391.63,491.80 384.98,488.00" fill="#fff"/>
<polygon points="392.90,479.03 400.50,479.03 396.70,472.38" fill="#fff"/>
<rect x="414.2" y="449.1" width="52.8" height="52.8" fill="#000"/>
<path d="M434.5 483.8 C434.4 485.3 433.7 486.8 433.0 488.0 C432.2 489.2 431.1 490.6 430.0 491.0 C428.9 491.4 427.1 491.0 426.1 490.2 C425.1 489.4 424.0 487.7 423.7 486.2 C423.4 484.8 424.0 483.0 424.4 481.7 C424.9 480.3 425.5 478.9 426.4 478.1 C427.3 477.4 428.7 477.1 429.9 477.2 C431.1 477.3 432.9 477.8 433.6 478.9 C434.4 480.0 434.6 482.3 434.5 483.8 Z" fill="#0a2a0a" stroke="#38c838" stroke-width="1.6" filter="url(#b05)"/>
<path d="M459.0 463.2 C458.9 464.7 458.3 466.8 457.4 467.7 C456.5 468.6 454.8 468.6 453.7 468.6 C452.5 468.5 451.2 468.3 450.4 467.5 C449.5 466.7 448.8 465.2 448.6 463.7 C448.3 462.3 448.2 460.1 448.9 458.8 C449.5 457.5 451.1 456.7 452.3 456.1 C453.5 455.6 455.1 455.1 456.1 455.6 C457.1 456.1 457.9 457.7 458.3 459.0 C458.8 460.2 459.2 461.7 459.0 463.2 Z" fill="#0a2a0a" stroke="#38c838" stroke-width="1.6" filter="url(#b05)"/>
<polygon points="443.53,480.00 443.53,487.60 436.88,483.80" fill="#fff"/>
<polygon points="450.10,479.03 457.70,479.03 453.90,472.38" fill="#fff"/>
<rect x="451.60" y="494.50" width="10.2" height="1.7" fill="#fff"/>
<rect x="246.5" y="504.6" width="52.8" height="52.8" fill="#000"/>
<path d="M265.0 530.2 C265.5 531.4 265.8 533.1 265.3 534.5 C264.9 535.8 263.8 537.5 262.5 538.3 C261.2 539.1 259.1 539.3 257.6 539.1 C256.1 538.9 254.2 538.0 253.4 536.9 C252.5 535.8 252.2 534.0 252.2 532.6 C252.3 531.1 252.5 529.2 253.5 528.1 C254.4 527.0 256.5 526.1 258.0 526.0 C259.4 525.8 261.1 526.5 262.2 527.2 C263.4 527.9 264.5 529.0 265.0 530.2 Z" fill="#220303" stroke="#e41c1c" stroke-width="1.7" filter="url(#b05)"/>
<path d="M295.0 531.1 C294.7 532.5 293.4 533.8 292.3 534.9 C291.2 536.0 289.8 537.5 288.4 537.6 C287.0 537.8 284.9 536.9 283.9 535.9 C282.9 534.8 282.4 532.8 282.2 531.3 C282.0 529.7 282.0 527.7 282.8 526.5 C283.5 525.3 285.2 524.4 286.5 523.9 C287.8 523.5 289.4 523.4 290.6 523.9 C291.9 524.3 293.1 525.4 293.9 526.6 C294.6 527.8 295.2 529.8 295.0 531.1 Z" fill="#220303" stroke="#e41c1c" stroke-width="1.7" filter="url(#b05)"/>
<polygon points="252.50,552.93 260.10,552.93 256.30,546.28" fill="#fff"/>
<polygon points="284.70,549.43 292.30,549.43 288.50,542.78" fill="#fff"/>
<rect x="302.4" y="504.6" width="52.8" height="52.8" fill="#000"/>
<path d="M327.0 537.9 C327.2 539.0 326.0 540.6 325.1 541.7 C324.1 542.8 322.8 544.3 321.4 544.7 C319.9 545.2 317.8 544.7 316.3 544.3 C314.8 543.9 313.2 543.3 312.5 542.3 C311.8 541.4 311.8 539.9 312.2 538.7 C312.5 537.5 313.3 536.0 314.5 535.3 C315.7 534.5 317.7 534.4 319.3 534.3 C320.9 534.3 322.6 534.4 323.9 534.9 C325.2 535.5 326.8 536.8 327.0 537.9 Z" fill="#220303" stroke="#e41c1c" stroke-width="1.7" filter="url(#b05)"/>
<path d="M346.0 517.4 C346.4 518.6 345.3 520.3 344.6 521.7 C343.8 523.1 343.0 525.0 341.6 525.8 C340.2 526.6 337.7 526.7 336.0 526.5 C334.4 526.3 332.8 525.6 331.8 524.7 C330.9 523.7 329.9 522.2 330.1 521.0 C330.3 519.7 331.7 518.1 332.9 517.1 C334.1 516.0 335.8 515.1 337.3 514.7 C338.9 514.3 340.9 514.3 342.3 514.7 C343.8 515.2 345.6 516.2 346.0 517.4 Z" fill="#220303" stroke="#e41c1c" stroke-width="1.7" filter="url(#b05)"/>
<polygon points="314.20,555.33 321.80,555.33 318.00,548.68" fill="#fff"/>
<polygon points="333.90,539.03 341.50,539.03 337.70,532.38" fill="#fff"/>
<rect x="358.3" y="504.6" width="52.8" height="52.8" fill="#000"/>
<path d="M381.2 543.4 C381.0 544.7 379.5 546.0 378.2 547.1 C377.0 548.1 375.2 549.6 373.6 549.7 C371.9 549.7 369.7 548.5 368.3 547.4 C367.0 546.3 365.9 544.6 365.5 543.1 C365.1 541.5 364.9 539.2 365.8 538.0 C366.7 536.8 369.1 536.5 370.8 536.0 C372.5 535.5 374.6 534.6 376.1 535.1 C377.6 535.6 378.9 537.5 379.7 538.9 C380.6 540.3 381.5 542.0 381.2 543.4 Z" fill="#220303" stroke="#e41c1c" stroke-width="1.7" filter="url(#b05)"/>
<path d="M406.0 517.8 C405.9 519.1 405.9 520.7 404.7 521.7 C403.5 522.6 400.9 523.2 398.7 523.5 C396.5 523.8 393.5 524.0 391.6 523.4 C389.7 522.8 388.1 521.2 387.5 519.9 C386.8 518.6 387.0 517.0 387.7 515.8 C388.3 514.5 389.7 512.7 391.6 512.2 C393.4 511.6 396.4 512.0 398.6 512.2 C400.9 512.5 403.9 512.8 405.2 513.7 C406.4 514.6 406.1 516.5 406.0 517.8 Z" fill="#220303" stroke="#e41c1c" stroke-width="1.7" filter="url(#b05)"/>
<polygon points="391.63,539.70 391.63,547.30 384.98,543.50" fill="#fff"/>
<polygon points="392.90,534.53 400.50,534.53 396.70,527.88" fill="#fff"/>
<rect x="414.2" y="504.6" width="52.8" height="52.8" fill="#000"/>
<path d="M434.5 539.3 C434.4 540.8 433.7 542.3 433.0 543.5 C432.2 544.7 431.1 546.1 430.0 546.5 C428.9 546.9 427.1 546.5 426.1 545.7 C425.1 544.9 424.0 543.2 423.7 541.7 C423.4 540.3 424.0 538.5 424.4 537.2 C424.9 535.8 425.5 534.4 426.4 533.6 C427.3 532.9 428.7 532.6 429.9 532.7 C431.1 532.8 432.9 533.3 433.6 534.4 C434.4 535.5 434.6 537.8 434.5 539.3 Z" fill="#220303" stroke="#e41c1c" stroke-width="1.7" filter="url(#b05)"/>
<path d="M459.0 518.7 C458.9 520.2 458.3 522.3 457.4 523.2 C456.5 524.1 454.8 524.1 453.7 524.1 C452.5 524.0 451.2 523.8 450.4 523.0 C449.5 522.2 448.8 520.7 448.6 519.2 C448.3 517.8 448.2 515.6 448.9 514.3 C449.5 513.0 451.1 512.2 452.3 511.6 C453.5 511.1 455.1 510.6 456.1 511.1 C457.1 511.6 457.9 513.2 458.3 514.5 C458.8 515.7 459.2 517.2 459.0 518.7 Z" fill="#220303" stroke="#e41c1c" stroke-width="1.7" filter="url(#b05)"/>
<polygon points="443.53,535.50 443.53,543.10 436.88,539.30" fill="#fff"/>
<polygon points="450.10,534.53 457.70,534.53 453.90,527.88" fill="#fff"/>
<rect x="451.60" y="550.00" width="10.2" height="1.7" fill="#fff"/>
<rect x="246.5" y="560.1" width="52.8" height="52.8" fill="#000"/>
<path d="M265.0 585.7 C265.5 586.9 265.8 588.6 265.3 590.0 C264.9 591.3 263.8 593.0 262.5 593.8 C261.2 594.6 259.1 594.8 257.6 594.6 C256.1 594.4 254.2 593.5 253.4 592.4 C252.5 591.3 252.2 589.5 252.2 588.1 C252.3 586.6 252.5 584.7 253.5 583.6 C254.4 582.5 256.5 581.6 258.0 581.5 C259.4 581.3 261.1 582.0 262.2 582.7 C263.4 583.4 264.5 584.5 265.0 585.7 Z" fill="#2030f0" stroke="#f0f0e0" stroke-width="1.6" filter="url(#b05)"/>
<path d="M295.0 586.6 C294.7 588.0 293.4 589.3 292.3 590.4 C291.2 591.5 289.8 593.0 288.4 593.1 C287.0 593.3 284.9 592.4 283.9 591.4 C282.9 590.3 282.4 588.3 282.2 586.8 C282.0 585.2 282.0 583.2 282.8 582.0 C283.5 580.8 285.2 579.9 286.5 579.4 C287.8 579.0 289.4 578.9 290.6 579.4 C291.9 579.8 293.1 580.9 293.9 582.1 C294.6 583.3 295.2 585.3 295.0 586.6 Z" fill="#2030f0" stroke="#f0f0e0" stroke-width="1.6" filter="url(#b05)"/>
<polygon points="252.50,608.43 260.10,608.43 256.30,601.78" fill="#fff"/>
<polygon points="284.70,604.93 292.30,604.93 288.50,598.28" fill="#fff"/>
<rect x="302.4" y="560.1" width="52.8" height="52.8" fill="#000"/>
<path d="M327.0 593.4 C327.2 594.5 326.0 596.1 325.1 597.2 C324.1 598.3 322.8 599.8 321.4 600.2 C319.9 600.7 317.8 600.2 316.3 599.8 C314.8 599.4 313.2 598.8 312.5 597.8 C311.8 596.9 311.8 595.4 312.2 594.2 C312.5 593.0 313.3 591.5 314.5 590.8 C315.7 590.0 317.7 589.9 319.3 589.8 C320.9 589.8 322.6 589.9 323.9 590.4 C325.2 591.0 326.8 592.3 327.0 593.4 Z" fill="#30a0c0" stroke="#70f070" stroke-width="1.8" filter="url(#b05)"/>
<path d="M323.8 594.0 C323.9 594.6 323.2 595.6 322.6 596.2 C322.1 596.9 321.3 597.8 320.4 598.1 C319.5 598.3 318.3 598.0 317.4 597.8 C316.5 597.6 315.5 597.2 315.1 596.6 C314.7 596.1 314.7 595.2 314.9 594.4 C315.1 593.7 315.6 592.8 316.3 592.4 C317.0 591.9 318.2 591.8 319.2 591.8 C320.1 591.8 321.2 591.8 321.9 592.2 C322.7 592.5 323.7 593.3 323.8 594.0 Z" fill="#2050ff" filter="url(#b1)"/>
<path d="M346.0 572.9 C346.4 574.1 345.3 575.8 344.6 577.2 C343.8 578.6 343.0 580.5 341.6 581.3 C340.2 582.1 337.7 582.2 336.0 582.0 C334.4 581.8 332.8 581.1 331.8 580.2 C330.9 579.2 329.9 577.7 330.1 576.5 C330.3 575.2 331.7 573.6 332.9 572.6 C334.1 571.5 335.8 570.6 337.3 570.2 C338.9 569.8 340.9 569.8 342.3 570.2 C343.8 570.7 345.6 571.7 346.0 572.9 Z" fill="#30a0c0" stroke="#70f070" stroke-width="1.8" filter="url(#b05)"/>
<path d="M342.8 574.1 C343.0 574.8 342.4 575.8 341.9 576.6 C341.5 577.5 341.0 578.6 340.2 579.1 C339.3 579.6 337.8 579.6 336.8 579.5 C335.8 579.4 334.9 579.0 334.3 578.4 C333.7 577.9 333.2 576.9 333.3 576.2 C333.4 575.4 334.2 574.5 335.0 573.9 C335.7 573.2 336.7 572.7 337.6 572.5 C338.5 572.2 339.7 572.2 340.6 572.5 C341.5 572.7 342.6 573.4 342.8 574.1 Z" fill="#2050ff" filter="url(#b1)"/>
<polygon points="314.20,610.83 321.80,610.83 318.00,604.18" fill="#fff"/>
<polygon points="333.90,594.53 341.50,594.53 337.70,587.88" fill="#fff"/>
<rect x="358.3" y="560.1" width="52.8" height="52.8" fill="#000"/>
<path d="M381.2 598.9 C381.0 600.2 379.5 601.5 378.2 602.6 C377.0 603.6 375.2 605.1 373.6 605.2 C371.9 605.2 369.7 604.0 368.3 602.9 C367.0 601.8 365.9 600.1 365.5 598.6 C365.1 597.0 364.9 594.7 365.8 593.5 C366.7 592.3 369.1 592.0 370.8 591.5 C372.5 591.0 374.6 590.1 376.1 590.6 C377.6 591.1 378.9 593.0 379.7 594.4 C380.6 595.8 381.5 597.5 381.2 598.9 Z" fill="#8a30f0" stroke="#e070f0" stroke-width="1.6" filter="url(#b05)"/>
<path d="M406.0 573.3 C405.9 574.6 405.9 576.2 404.7 577.2 C403.5 578.1 400.9 578.7 398.7 579.0 C396.5 579.3 393.5 579.5 391.6 578.9 C389.7 578.3 388.1 576.7 387.5 575.4 C386.8 574.1 387.0 572.5 387.7 571.3 C388.3 570.0 389.7 568.2 391.6 567.7 C393.4 567.1 396.4 567.5 398.6 567.7 C400.9 568.0 403.9 568.3 405.2 569.2 C406.4 570.1 406.1 572.0 406.0 573.3 Z" fill="#8a30f0" stroke="#e070f0" stroke-width="1.6" filter="url(#b05)"/>
<polygon points="391.63,595.20 391.63,602.80 384.98,599.00" fill="#fff"/>
<polygon points="392.90,590.03 400.50,590.03 396.70,583.38" fill="#fff"/>
<rect x="414.2" y="560.1" width="52.8" height="52.8" fill="#000"/>
<path d="M434.5 594.8 C434.4 596.3 433.7 597.8 433.0 599.0 C432.2 600.2 431.1 601.6 430.0 602.0 C428.9 602.4 427.1 602.0 426.1 601.2 C425.1 600.4 424.0 598.7 423.7 597.2 C423.4 595.8 424.0 594.0 424.4 592.7 C424.9 591.3 425.5 589.9 426.4 589.1 C427.3 588.4 428.7 588.1 429.9 588.2 C431.1 588.3 432.9 588.8 433.6 589.9 C434.4 591.0 434.6 593.3 434.5 594.8 Z" fill="#2030f0" stroke="#f0f0e0" stroke-width="1.6" filter="url(#b05)"/>
<path d="M459.0 574.2 C458.9 575.7 458.3 577.8 457.4 578.7 C456.5 579.6 454.8 579.6 453.7 579.6 C452.5 579.5 451.2 579.3 450.4 578.5 C449.5 577.7 448.8 576.2 448.6 574.7 C448.3 573.3 448.2 571.1 448.9 569.8 C449.5 568.5 451.1 567.7 452.3 567.1 C453.5 566.6 455.1 566.1 456.1 566.6 C457.1 567.1 457.9 568.7 458.3 570.0 C458.8 571.2 459.2 572.7 459.0 574.2 Z" fill="#2030f0" stroke="#f0f0e0" stroke-width="1.6" filter="url(#b05)"/>
<polygon points="443.53,591.00 443.53,598.60 436.88,594.80" fill="#fff"/>
<polygon points="450.10,590.03 457.70,590.03 453.90,583.38" fill="#fff"/>
<rect x="451.60" y="605.50" width="10.2" height="1.7" fill="#fff"/>
<text x="0" y="3.38" font-size="9.4" font-weight="bold" stroke="#2830c0" stroke-width="0.32" text-anchor="middle" fill="#2830c0" transform="translate(237.30 421.20) rotate(-90.00) scale(1 1.08)">DAPI</text>
<text x="0" y="3.38" font-size="9.4" font-weight="bold" stroke="#3cbc3c" stroke-width="0.32" text-anchor="middle" fill="#3cbc3c" transform="translate(237.30 476.50) rotate(-90.00) scale(1 1.08)">mAb414</text>
<text x="0" y="3.38" font-size="9.4" font-weight="bold" stroke="#cc2a2a" stroke-width="0.32" text-anchor="middle" fill="#cc2a2a" transform="translate(237.30 531.00) rotate(-90.00) scale(1 1.08)">Lamin A</text>
<text x="0" y="3.38" font-size="9.4" font-weight="bold" stroke="#ecc040" stroke-width="0.32" text-anchor="middle" fill="#ecc040" transform="translate(237.30 587.00) rotate(-90.00) scale(1 1.08)">Merge</text>
<text x="222.50" y="659.00" font-size="22" font-weight="bold" stroke="#1a1a1a" stroke-width="0.8" text-anchor="start" fill="#1a1a1a" >F</text>
<text x="274.30" y="675.20" font-size="9.2" font-weight="bold" stroke="#2030c8" stroke-width="0.32" text-anchor="middle" fill="#2030c8" transform="translate(0 -54.016) scale(1 1.08)" >DAPI</text>
<text x="326.40" y="675.20" font-size="9.2" font-weight="bold" stroke="#e02828" stroke-width="0.32" text-anchor="middle" fill="#e02828" transform="translate(0 -54.016) scale(1 1.08)" >Reporter</text>
<text x="382.30" y="675.20" font-size="9.2" font-weight="bold" stroke="#20b050" stroke-width="0.32" text-anchor="middle" fill="#20b050" transform="translate(0 -54.016) scale(1 1.08)" >Lamin A</text>
<text x="437.80" y="675.20" font-size="9.2" font-weight="bold" stroke="#111" stroke-width="0.32" text-anchor="middle" fill="#111" transform="translate(0 -54.016) scale(1 1.08)" >Merge</text>
<text x="0" y="3.38" font-size="9.4" font-weight="bold" stroke="#1a1a1a" stroke-width="0.32" text-anchor="middle" fill="#1a1a1a" transform="translate(236.60 710.00) rotate(-90.00) scale(1 1.08)">Pre-bleach</text>
<text x="0" y="3.38" font-size="9.4" font-weight="bold" stroke="#1a1a1a" stroke-width="0.32" text-anchor="middle" fill="#1a1a1a" transform="translate(236.60 767.50) rotate(-90.00) scale(1 1.08)">t= 0s</text>
<text x="0" y="3.38" font-size="9.4" font-weight="bold" stroke="#1a1a1a" stroke-width="0.32" text-anchor="middle" fill="#1a1a1a" transform="translate(236.60 826.20) rotate(-90.00) scale(1 1.08)">t= 200s</text>
<rect x="246.5" y="683.6" width="52.7" height="52.6" fill="#000"/>
<circle cx="260.00" cy="708.10" r="5.6" fill="#1a26f0" filter="url(#b3)"/>
<circle cx="279.50" cy="708.10" r="5.3" fill="#1a26f0" filter="url(#b3)"/>
<rect x="303.1" y="683.6" width="52.7" height="52.6" fill="#000"/>
<ellipse cx="316.70" cy="709.90" rx="11.8" ry="13.6" transform="rotate(-15 316.70 709.90)" fill="#f41010" filter="url(#b3)"/>
<path d="M329.20 700.40 L338.00 698.10 L349.60 701.20 L348.20 706.50 L337.20 719.80 L331.90 718.00 L329.20 709.20 Z" fill="#f41010" stroke="#f41010" stroke-width="2.5" stroke-linejoin="round" filter="url(#b3)"/>
<ellipse cx="316.80" cy="707.30" rx="5.5" ry="5.5" fill="#900606" filter="url(#b2)"/>
<circle cx="335.40" cy="707.90" r="4.3" fill="#800606" filter="url(#b05)"/>
<circle cx="335.40" cy="707.90" r="4.6" fill="none" stroke="#fff" stroke-width="1.0" stroke-dasharray="1.1,1.0"/>
<rect x="359.2" y="683.6" width="52.7" height="52.6" fill="#000"/>
<path d="M367.20 712.60 A6.8 6.8 0 1 0 368.70 702.60" fill="none" stroke="#30c830" stroke-width="1.4" filter="url(#b05)"/>
<circle cx="372.70" cy="707.90" r="6.8" fill="none" stroke="#1a6a1a" stroke-width="1.0" filter="url(#b05)"/>
<circle cx="392.20" cy="707.90" r="6.0" fill="none" stroke="#30c030" stroke-width="1.3" filter="url(#b05)"/>
<rect x="415.3" y="683.6" width="52.7" height="52.6" fill="#000"/>
<ellipse cx="428.90" cy="709.90" rx="11.8" ry="13.6" transform="rotate(-15 428.90 709.90)" fill="#f41010" filter="url(#b3)"/>
<path d="M441.40 700.40 L450.20 698.10 L461.80 701.20 L460.40 706.50 L449.40 719.80 L444.10 718.00 L441.40 709.20 Z" fill="#f41010" stroke="#f41010" stroke-width="2.5" stroke-linejoin="round" filter="url(#b3)"/>
<circle cx="428.80" cy="707.90" r="6.9" fill="#3038e8" stroke="#d0f0f0" stroke-width="1.6" filter="url(#b05)"/>
<circle cx="448.30" cy="707.90" r="6.0" fill="#3050e8" stroke="#d0f0f0" stroke-width="1.6" filter="url(#b05)"/>
<rect x="453.20" y="730.90" width="10.6" height="1.8" fill="#fff"/>
<rect x="246.5" y="741.6" width="52.7" height="52.6" fill="#000"/>
<circle cx="260.00" cy="766.10" r="5.6" fill="#1a26f0" filter="url(#b3)"/>
<circle cx="279.50" cy="766.10" r="5.3" fill="#1a26f0" filter="url(#b3)"/>
<rect x="303.1" y="741.6" width="52.7" height="52.6" fill="#000"/>
<ellipse cx="316.70" cy="767.90" rx="11.8" ry="13.6" transform="rotate(-15 316.70 767.90)" fill="#f41010" filter="url(#b3)"/>
<path d="M329.20 758.40 L338.00 756.10 L349.60 759.20 L348.20 764.50 L337.20 777.80 L331.90 776.00 L329.20 767.20 Z" fill="#f41010" stroke="#f41010" stroke-width="2.5" stroke-linejoin="round" filter="url(#b3)"/>
<ellipse cx="316.80" cy="765.30" rx="5.5" ry="5.5" fill="#900606" filter="url(#b2)"/>
<circle cx="335.40" cy="765.90" r="4.3" fill="#000"/>
<circle cx="335.40" cy="765.90" r="4.6" fill="none" stroke="#fff" stroke-width="1.0" stroke-dasharray="1.1,1.0"/>
<rect x="359.2" y="741.6" width="52.7" height="52.6" fill="#000"/>
<path d="M367.20 770.60 A6.8 6.8 0 1 0 368.70 760.60" fill="none" stroke="#30c830" stroke-width="1.4" filter="url(#b05)"/>
<circle cx="372.70" cy="765.90" r="6.8" fill="none" stroke="#1a6a1a" stroke-width="1.0" filter="url(#b05)"/>
<circle cx="392.20" cy="765.90" r="6.0" fill="none" stroke="#30c030" stroke-width="1.3" filter="url(#b05)"/>
<rect x="415.3" y="741.6" width="52.7" height="52.6" fill="#000"/>
<ellipse cx="428.90" cy="767.90" rx="11.8" ry="13.6" transform="rotate(-15 428.90 767.90)" fill="#f41010" filter="url(#b3)"/>
<path d="M441.40 758.40 L450.20 756.10 L461.80 759.20 L460.40 764.50 L449.40 777.80 L444.10 776.00 L441.40 767.20 Z" fill="#f41010" stroke="#f41010" stroke-width="2.5" stroke-linejoin="round" filter="url(#b3)"/>
<circle cx="428.80" cy="765.90" r="6.9" fill="#3038e8" stroke="#d0f0f0" stroke-width="1.6" filter="url(#b05)"/>
<circle cx="448.30" cy="765.90" r="6.0" fill="#3050e8" stroke="#d0f0f0" stroke-width="1.6" filter="url(#b05)"/>
<rect x="453.20" y="788.90" width="10.6" height="1.8" fill="#fff"/>
<rect x="246.5" y="800.0" width="52.7" height="52.6" fill="#000"/>
<circle cx="260.00" cy="824.50" r="5.6" fill="#1a26f0" filter="url(#b3)"/>
<circle cx="279.50" cy="824.50" r="5.3" fill="#1a26f0" filter="url(#b3)"/>
<rect x="303.1" y="800.0" width="52.7" height="52.6" fill="#000"/>
<ellipse cx="316.70" cy="826.30" rx="11.8" ry="13.6" transform="rotate(-15 316.70 826.30)" fill="#f41010" filter="url(#b3)"/>
<path d="M329.20 816.80 L338.00 814.50 L349.60 817.60 L348.20 822.90 L337.20 836.20 L331.90 834.40 L329.20 825.60 Z" fill="#f41010" stroke="#f41010" stroke-width="2.5" stroke-linejoin="round" filter="url(#b3)"/>
<ellipse cx="316.80" cy="823.70" rx="5.5" ry="5.5" fill="#900606" filter="url(#b2)"/>
<circle cx="335.40" cy="824.30" r="4.3" fill="#800606" filter="url(#b05)"/>
<circle cx="335.40" cy="824.30" r="4.6" fill="none" stroke="#fff" stroke-width="1.0" stroke-dasharray="1.1,1.0"/>
<rect x="359.2" y="800.0" width="52.7" height="52.6" fill="#000"/>
<path d="M367.20 829.00 A6.8 6.8 0 1 0 368.70 819.00" fill="none" stroke="#30c830" stroke-width="1.4" filter="url(#b05)"/>
<circle cx="372.70" cy="824.30" r="6.8" fill="none" stroke="#1a6a1a" stroke-width="1.0" filter="url(#b05)"/>
<circle cx="392.20" cy="824.30" r="6.0" fill="none" stroke="#30c030" stroke-width="1.3" filter="url(#b05)"/>
<rect x="415.3" y="800.0" width="52.7" height="52.6" fill="#000"/>
<ellipse cx="428.90" cy="826.30" rx="11.8" ry="13.6" transform="rotate(-15 428.90 826.30)" fill="#f41010" filter="url(#b3)"/>
<path d="M441.40 816.80 L450.20 814.50 L461.80 817.60 L460.40 822.90 L449.40 836.20 L444.10 834.40 L441.40 825.60 Z" fill="#f41010" stroke="#f41010" stroke-width="2.5" stroke-linejoin="round" filter="url(#b3)"/>
<circle cx="428.80" cy="824.30" r="6.9" fill="#3038e8" stroke="#d0f0f0" stroke-width="1.6" filter="url(#b05)"/>
<circle cx="448.30" cy="824.30" r="6.0" fill="#3050e8" stroke="#d0f0f0" stroke-width="1.6" filter="url(#b05)"/>
<rect x="453.20" y="847.30" width="10.6" height="1.8" fill="#fff"/>
<rect x="316.30" y="637.20" width="10.2" height="5.6" fill="#ffffff" stroke="#111" stroke-width="1.3"/>
<rect x="316.30" y="652.40" width="10.2" height="5.6" fill="#5a8ed0" stroke="#111" stroke-width="1.3"/>
<rect x="461.50" y="637.20" width="10.2" height="5.6" fill="#c02030" stroke="#111" stroke-width="1.3"/>
<rect x="461.50" y="652.40" width="10.2" height="5.6" fill="#a8a8a8" stroke="#111" stroke-width="1.3"/>
<text x="333.60" y="643.60" font-size="9.6" font-weight="bold" stroke="#111" stroke-width="0.32" text-anchor="start" fill="#111" transform="translate(0 -51.488) scale(1 1.08)" >sgCtrl + sh-Scb</text>
<text x="333.6" y="658.8" font-size="9.6" font-weight="bold" stroke="#111" stroke-width="0.32" fill="#111" transform="translate(0 -52.704) scale(1 1.08)">sgCtrl + sh-<tspan font-style="italic">ARMC12</tspan> #1</text>
<text x="481.4" y="643.0" font-size="9.6" font-weight="bold" stroke="#111" stroke-width="0.32" fill="#111" transform="translate(0 -51.440) scale(1 1.08)">sg<tspan font-style="italic">MYC</tspan>-a #1 + sh-Scb</text>
<text x="481.4" y="658.2" font-size="9.6" font-weight="bold" stroke="#111" stroke-width="0.32" fill="#111" transform="translate(0 -52.656) scale(1 1.08)">sg<tspan font-style="italic">MYC</tspan>-a #1 + sh-<tspan font-style="italic">ARMC12</tspan> #1</text>
<text x="481.50" y="337.70" font-size="22" font-weight="bold" stroke="#1a1a1a" stroke-width="0.8" text-anchor="start" fill="#1a1a1a" >D</text>
<line x1="538.4" y1="379.6" x2="538.4" y2="480.3" stroke="#111" stroke-width="1.2"/>
<line x1="537.8" y1="480.3" x2="632" y2="480.3" stroke="#111" stroke-width="1.2"/>
<line x1="535.4" y1="480.30" x2="538.4" y2="480.30" stroke="#111" stroke-width="1.1"/>
<text x="533.90" y="483.30" font-size="8.2" font-weight="bold" stroke="#111" stroke-width="0.32" text-anchor="end" fill="#111" transform="translate(0 -38.664) scale(1 1.08)" >0.0</text>
<line x1="535.4" y1="446.90" x2="538.4" y2="446.90" stroke="#111" stroke-width="1.1"/>
<text x="533.90" y="449.90" font-size="8.2" font-weight="bold" stroke="#111" stroke-width="0.32" text-anchor="end" fill="#111" transform="translate(0 -35.992) scale(1 1.08)" >0.5</text>
<line x1="535.4" y1="413.50" x2="538.4" y2="413.50" stroke="#111" stroke-width="1.1"/>
<text x="533.90" y="416.50" font-size="8.2" font-weight="bold" stroke="#111" stroke-width="0.32" text-anchor="end" fill="#111" transform="translate(0 -33.320) scale(1 1.08)" >1.0</text>
<line x1="535.4" y1="380.10" x2="538.4" y2="380.10" stroke="#111" stroke-width="1.1"/>
<text x="533.90" y="383.10" font-size="8.2" font-weight="bold" stroke="#111" stroke-width="0.32" text-anchor="end" fill="#111" transform="translate(0 -30.648) scale(1 1.08)" >1.5</text>
<rect x="547.8" y="451.58" width="17.10" height="28.72" fill="#ffffff" stroke="#111" stroke-width="1.3"/>
<circle cx="550.80" cy="450.70" r="2.2" fill="#fff" stroke="#222" stroke-width="0.8"/>
<circle cx="552.65" cy="449.83" r="2.2" fill="#fff" stroke="#222" stroke-width="0.8"/>
<circle cx="554.50" cy="452.33" r="2.2" fill="#fff" stroke="#222" stroke-width="0.8"/>
<circle cx="556.35" cy="449.44" r="2.2" fill="#fff" stroke="#222" stroke-width="0.8"/>
<circle cx="558.20" cy="451.76" r="2.2" fill="#fff" stroke="#222" stroke-width="0.8"/>
<circle cx="560.05" cy="450.90" r="2.2" fill="#fff" stroke="#222" stroke-width="0.8"/>
<circle cx="561.90" cy="449.37" r="2.2" fill="#fff" stroke="#222" stroke-width="0.8"/>
<rect x="569.7" y="438.22" width="16.20" height="42.08" fill="#c01c2c" stroke="#111" stroke-width="1.3"/>
<circle cx="572.70" cy="438.25" r="2.2" fill="#fff" stroke="#222" stroke-width="0.8"/>
<circle cx="574.40" cy="435.90" r="2.2" fill="#fff" stroke="#222" stroke-width="0.8"/>
<circle cx="576.10" cy="437.88" r="2.2" fill="#fff" stroke="#222" stroke-width="0.8"/>
<circle cx="577.80" cy="436.07" r="2.2" fill="#fff" stroke="#222" stroke-width="0.8"/>
<circle cx="579.50" cy="436.17" r="2.2" fill="#fff" stroke="#222" stroke-width="0.8"/>
<circle cx="581.20" cy="437.84" r="2.2" fill="#fff" stroke="#222" stroke-width="0.8"/>
<circle cx="582.90" cy="439.85" r="2.2" fill="#fff" stroke="#222" stroke-width="0.8"/>
<rect x="590.6" y="462.26" width="16.60" height="18.04" fill="#4a8ad8" stroke="#111" stroke-width="1.3"/>
<circle cx="593.60" cy="460.38" r="2.2" fill="#fff" stroke="#222" stroke-width="0.8"/>
<circle cx="595.37" cy="460.88" r="2.2" fill="#fff" stroke="#222" stroke-width="0.8"/>
<circle cx="597.13" cy="462.90" r="2.2" fill="#fff" stroke="#222" stroke-width="0.8"/>
<circle cx="598.90" cy="464.50" r="2.2" fill="#fff" stroke="#222" stroke-width="0.8"/>
<circle cx="600.67" cy="462.65" r="2.2" fill="#fff" stroke="#222" stroke-width="0.8"/>
<circle cx="602.43" cy="461.75" r="2.2" fill="#fff" stroke="#222" stroke-width="0.8"/>
<circle cx="604.20" cy="464.65" r="2.2" fill="#fff" stroke="#222" stroke-width="0.8"/>
<rect x="612.0" y="451.58" width="16.60" height="28.72" fill="#a6a6a6" stroke="#111" stroke-width="1.3"/>
<circle cx="615.00" cy="449.31" r="2.2" fill="#fff" stroke="#222" stroke-width="0.8"/>
<circle cx="616.77" cy="453.37" r="2.2" fill="#fff" stroke="#222" stroke-width="0.8"/>
<circle cx="618.53" cy="450.52" r="2.2" fill="#fff" stroke="#222" stroke-width="0.8"/>
<circle cx="620.30" cy="449.80" r="2.2" fill="#fff" stroke="#222" stroke-width="0.8"/>
<circle cx="622.07" cy="449.66" r="2.2" fill="#fff" stroke="#222" stroke-width="0.8"/>
<circle cx="623.83" cy="450.62" r="2.2" fill="#fff" stroke="#222" stroke-width="0.8"/>
<circle cx="625.60" cy="453.16" r="2.2" fill="#fff" stroke="#222" stroke-width="0.8"/>
<path d="M556 428.6 V426.8 H576.3 V428.6" fill="none" stroke="#777" stroke-width="1.0"/>
<line x1="559.35" y1="418.70" x2="559.35" y2="423.70" stroke="#666" stroke-width="1.1"/>
<line x1="557.18" y1="419.95" x2="561.52" y2="422.45" stroke="#666" stroke-width="1.1"/>
<line x1="561.52" y1="419.95" x2="557.18" y2="422.45" stroke="#666" stroke-width="1.1"/>
<line x1="566.15" y1="418.70" x2="566.15" y2="423.70" stroke="#666" stroke-width="1.1"/>
<line x1="563.98" y1="419.95" x2="568.32" y2="422.45" stroke="#666" stroke-width="1.1"/>
<line x1="568.32" y1="419.95" x2="563.98" y2="422.45" stroke="#666" stroke-width="1.1"/>
<line x1="572.95" y1="418.70" x2="572.95" y2="423.70" stroke="#666" stroke-width="1.1"/>
<line x1="570.78" y1="419.95" x2="575.12" y2="422.45" stroke="#666" stroke-width="1.1"/>
<line x1="575.12" y1="419.95" x2="570.78" y2="422.45" stroke="#666" stroke-width="1.1"/>
<path d="M556 412.6 V410.8 H599.9 V412.6" fill="none" stroke="#777" stroke-width="1.0"/>
<line x1="571.15" y1="402.70" x2="571.15" y2="407.70" stroke="#666" stroke-width="1.1"/>
<line x1="568.98" y1="403.95" x2="573.32" y2="406.45" stroke="#666" stroke-width="1.1"/>
<line x1="573.32" y1="403.95" x2="568.98" y2="406.45" stroke="#666" stroke-width="1.1"/>
<line x1="577.95" y1="402.70" x2="577.95" y2="407.70" stroke="#666" stroke-width="1.1"/>
<line x1="575.78" y1="403.95" x2="580.12" y2="406.45" stroke="#666" stroke-width="1.1"/>
<line x1="580.12" y1="403.95" x2="575.78" y2="406.45" stroke="#666" stroke-width="1.1"/>
<line x1="584.75" y1="402.70" x2="584.75" y2="407.70" stroke="#666" stroke-width="1.1"/>
<line x1="582.58" y1="403.95" x2="586.92" y2="406.45" stroke="#666" stroke-width="1.1"/>
<line x1="586.92" y1="403.95" x2="582.58" y2="406.45" stroke="#666" stroke-width="1.1"/>
<text x="0" y="3.38" font-size="9.4" font-weight="bold" stroke="#1a1a1a" stroke-width="0.32" text-anchor="middle" fill="#1a1a1a" transform="translate(502.80 416.70) rotate(-90.00) scale(1 1.08)">Number of nuclear pores/&#956;m</text>
<text x="0" y="3.38" font-size="9.4" font-weight="bold" stroke="#1a1a1a" stroke-width="0.32" text-anchor="middle" fill="#1a1a1a" transform="translate(515.20 416.70) rotate(-90.00) scale(1 1.08)">nuclear membrane</text>
<text x="588.00" y="496.00" font-size="9.6" font-weight="bold" stroke="#111" stroke-width="0.32" text-anchor="middle" fill="#111" transform="translate(0 -39.680) scale(1 1.08)" >SK-N-BE(2)</text>
<line x1="538.0" y1="511.4" x2="538.0" y2="612.7" stroke="#111" stroke-width="1.2"/>
<line x1="537.4" y1="612.7" x2="639" y2="612.7" stroke="#111" stroke-width="1.2"/>
<line x1="535.0" y1="612.70" x2="538.0" y2="612.70" stroke="#111" stroke-width="1.1"/>
<text x="533.50" y="615.70" font-size="8.2" font-weight="bold" stroke="#111" stroke-width="0.32" text-anchor="end" fill="#111" transform="translate(0 -49.256) scale(1 1.08)" >0.0</text>
<line x1="535.0" y1="587.50" x2="538.0" y2="587.50" stroke="#111" stroke-width="1.1"/>
<text x="533.50" y="590.50" font-size="8.2" font-weight="bold" stroke="#111" stroke-width="0.32" text-anchor="end" fill="#111" transform="translate(0 -47.240) scale(1 1.08)" >0.2</text>
<line x1="535.0" y1="562.30" x2="538.0" y2="562.30" stroke="#111" stroke-width="1.1"/>
<text x="533.50" y="565.30" font-size="8.2" font-weight="bold" stroke="#111" stroke-width="0.32" text-anchor="end" fill="#111" transform="translate(0 -45.224) scale(1 1.08)" >0.4</text>
<line x1="535.0" y1="537.10" x2="538.0" y2="537.10" stroke="#111" stroke-width="1.1"/>
<text x="533.50" y="540.10" font-size="8.2" font-weight="bold" stroke="#111" stroke-width="0.32" text-anchor="end" fill="#111" transform="translate(0 -43.208) scale(1 1.08)" >0.6</text>
<line x1="535.0" y1="511.90" x2="538.0" y2="511.90" stroke="#111" stroke-width="1.1"/>
<text x="533.50" y="514.90" font-size="8.2" font-weight="bold" stroke="#111" stroke-width="0.32" text-anchor="end" fill="#111" transform="translate(0 -41.192) scale(1 1.08)" >0.8</text>
<rect x="547.8" y="578.68" width="17.10" height="34.02" fill="#ffffff" stroke="#111" stroke-width="1.3"/>
<circle cx="550.80" cy="577.08" r="2.2" fill="#fff" stroke="#222" stroke-width="0.8"/>
<circle cx="552.65" cy="579.09" r="2.2" fill="#fff" stroke="#222" stroke-width="0.8"/>
<circle cx="554.50" cy="579.37" r="2.2" fill="#fff" stroke="#222" stroke-width="0.8"/>
<circle cx="556.35" cy="578.04" r="2.2" fill="#fff" stroke="#222" stroke-width="0.8"/>
<circle cx="558.20" cy="578.92" r="2.2" fill="#fff" stroke="#222" stroke-width="0.8"/>
<circle cx="560.05" cy="576.49" r="2.2" fill="#fff" stroke="#222" stroke-width="0.8"/>
<circle cx="561.90" cy="576.48" r="2.2" fill="#fff" stroke="#222" stroke-width="0.8"/>
<rect x="569.7" y="567.34" width="16.20" height="45.36" fill="#c01c2c" stroke="#111" stroke-width="1.3"/>
<circle cx="572.70" cy="565.87" r="2.2" fill="#fff" stroke="#222" stroke-width="0.8"/>
<circle cx="574.40" cy="568.24" r="2.2" fill="#fff" stroke="#222" stroke-width="0.8"/>
<circle cx="576.10" cy="566.98" r="2.2" fill="#fff" stroke="#222" stroke-width="0.8"/>
<circle cx="577.80" cy="566.41" r="2.2" fill="#fff" stroke="#222" stroke-width="0.8"/>
<circle cx="579.50" cy="567.77" r="2.2" fill="#fff" stroke="#222" stroke-width="0.8"/>
<circle cx="581.20" cy="567.11" r="2.2" fill="#fff" stroke="#222" stroke-width="0.8"/>
<circle cx="582.90" cy="566.34" r="2.2" fill="#fff" stroke="#222" stroke-width="0.8"/>
<rect x="590.6" y="588.13" width="16.60" height="24.57" fill="#4a8ad8" stroke="#111" stroke-width="1.3"/>
<circle cx="593.60" cy="589.60" r="2.2" fill="#fff" stroke="#222" stroke-width="0.8"/>
<circle cx="595.37" cy="589.12" r="2.2" fill="#fff" stroke="#222" stroke-width="0.8"/>
<circle cx="597.13" cy="586.85" r="2.2" fill="#fff" stroke="#222" stroke-width="0.8"/>
<circle cx="598.90" cy="588.50" r="2.2" fill="#fff" stroke="#222" stroke-width="0.8"/>
<circle cx="600.67" cy="588.26" r="2.2" fill="#fff" stroke="#222" stroke-width="0.8"/>
<circle cx="602.43" cy="590.01" r="2.2" fill="#fff" stroke="#222" stroke-width="0.8"/>
<circle cx="604.20" cy="589.28" r="2.2" fill="#fff" stroke="#222" stroke-width="0.8"/>
<rect x="612.0" y="578.05" width="16.60" height="34.65" fill="#a6a6a6" stroke="#111" stroke-width="1.3"/>
<circle cx="615.00" cy="576.99" r="2.2" fill="#fff" stroke="#222" stroke-width="0.8"/>
<circle cx="616.77" cy="580.45" r="2.2" fill="#fff" stroke="#222" stroke-width="0.8"/>
<circle cx="618.53" cy="576.14" r="2.2" fill="#fff" stroke="#222" stroke-width="0.8"/>
<circle cx="620.30" cy="577.64" r="2.2" fill="#fff" stroke="#222" stroke-width="0.8"/>
<circle cx="622.07" cy="579.34" r="2.2" fill="#fff" stroke="#222" stroke-width="0.8"/>
<circle cx="623.83" cy="576.31" r="2.2" fill="#fff" stroke="#222" stroke-width="0.8"/>
<circle cx="625.60" cy="577.99" r="2.2" fill="#fff" stroke="#222" stroke-width="0.8"/>
<path d="M556.5 561.8 V560.0 H578.7 V561.8" fill="none" stroke="#777" stroke-width="1.0"/>
<line x1="560.80" y1="551.90" x2="560.80" y2="556.90" stroke="#666" stroke-width="1.1"/>
<line x1="558.63" y1="553.15" x2="562.97" y2="555.65" stroke="#666" stroke-width="1.1"/>
<line x1="562.97" y1="553.15" x2="558.63" y2="555.65" stroke="#666" stroke-width="1.1"/>
<line x1="567.60" y1="551.90" x2="567.60" y2="556.90" stroke="#666" stroke-width="1.1"/>
<line x1="565.43" y1="553.15" x2="569.77" y2="555.65" stroke="#666" stroke-width="1.1"/>
<line x1="569.77" y1="553.15" x2="565.43" y2="555.65" stroke="#666" stroke-width="1.1"/>
<line x1="574.40" y1="551.90" x2="574.40" y2="556.90" stroke="#666" stroke-width="1.1"/>
<line x1="572.23" y1="553.15" x2="576.57" y2="555.65" stroke="#666" stroke-width="1.1"/>
<line x1="576.57" y1="553.15" x2="572.23" y2="555.65" stroke="#666" stroke-width="1.1"/>
<path d="M556.5 549.5999999999999 V547.8 H600.6 V549.5999999999999" fill="none" stroke="#777" stroke-width="1.0"/>
<line x1="571.75" y1="539.70" x2="571.75" y2="544.70" stroke="#666" stroke-width="1.1"/>
<line x1="569.58" y1="540.95" x2="573.92" y2="543.45" stroke="#666" stroke-width="1.1"/>
<line x1="573.92" y1="540.95" x2="569.58" y2="543.45" stroke="#666" stroke-width="1.1"/>
<line x1="578.55" y1="539.70" x2="578.55" y2="544.70" stroke="#666" stroke-width="1.1"/>
<line x1="576.38" y1="540.95" x2="580.72" y2="543.45" stroke="#666" stroke-width="1.1"/>
<line x1="580.72" y1="540.95" x2="576.38" y2="543.45" stroke="#666" stroke-width="1.1"/>
<line x1="585.35" y1="539.70" x2="585.35" y2="544.70" stroke="#666" stroke-width="1.1"/>
<line x1="583.18" y1="540.95" x2="587.52" y2="543.45" stroke="#666" stroke-width="1.1"/>
<line x1="587.52" y1="540.95" x2="583.18" y2="543.45" stroke="#666" stroke-width="1.1"/>
<text x="0" y="3.38" font-size="9.4" font-weight="bold" stroke="#1a1a1a" stroke-width="0.32" text-anchor="middle" fill="#1a1a1a" transform="translate(514.50 561.60) rotate(-90.00) scale(1 1.08)">NE spacing (nm)</text>
<text x="588.00" y="627.30" font-size="9.6" font-weight="bold" stroke="#111" stroke-width="0.32" text-anchor="middle" fill="#111" transform="translate(0 -50.184) scale(1 1.08)" >SK-N-BE(2)</text>
<line x1="520.1" y1="717.7" x2="520.1" y2="821.5" stroke="#111" stroke-width="1.2"/>
<line x1="519.5" y1="821.5" x2="619.5" y2="821.5" stroke="#111" stroke-width="1.2"/>
<line x1="517.1" y1="821.50" x2="520.1" y2="821.50" stroke="#111" stroke-width="1.1"/>
<text x="515.60" y="824.50" font-size="8.2" font-weight="bold" stroke="#111" stroke-width="0.32" text-anchor="end" fill="#111" transform="translate(0 -65.960) scale(1 1.08)" >0.0</text>
<line x1="517.1" y1="786.90" x2="520.1" y2="786.90" stroke="#111" stroke-width="1.1"/>
<text x="515.60" y="789.90" font-size="8.2" font-weight="bold" stroke="#111" stroke-width="0.32" text-anchor="end" fill="#111" transform="translate(0 -63.192) scale(1 1.08)" >0.5</text>
<line x1="517.1" y1="752.30" x2="520.1" y2="752.30" stroke="#111" stroke-width="1.1"/>
<text x="515.60" y="755.30" font-size="8.2" font-weight="bold" stroke="#111" stroke-width="0.32" text-anchor="end" fill="#111" transform="translate(0 -60.424) scale(1 1.08)" >1.0</text>
<line x1="517.1" y1="717.70" x2="520.1" y2="717.70" stroke="#111" stroke-width="1.1"/>
<text x="515.60" y="720.70" font-size="8.2" font-weight="bold" stroke="#111" stroke-width="0.32" text-anchor="end" fill="#111" transform="translate(0 -57.656) scale(1 1.08)" >1.5</text>
<line x1="526.70" y1="821.5" x2="526.70" y2="824.5" stroke="#111" stroke-width="1.1"/>
<text x="526.70" y="835.50" font-size="8.2" font-weight="bold" stroke="#111" stroke-width="0.32" text-anchor="middle" fill="#111" transform="translate(0 -66.840) scale(1 1.08)" >0</text>
<line x1="557.54" y1="821.5" x2="557.54" y2="824.5" stroke="#111" stroke-width="1.1"/>
<text x="557.54" y="835.50" font-size="8.2" font-weight="bold" stroke="#111" stroke-width="0.32" text-anchor="middle" fill="#111" transform="translate(0 -66.840) scale(1 1.08)" >50</text>
<line x1="588.37" y1="821.5" x2="588.37" y2="824.5" stroke="#111" stroke-width="1.1"/>
<text x="588.37" y="835.50" font-size="8.2" font-weight="bold" stroke="#111" stroke-width="0.32" text-anchor="middle" fill="#111" transform="translate(0 -66.840) scale(1 1.08)" >100</text>
<line x1="619.21" y1="821.5" x2="619.21" y2="824.5" stroke="#111" stroke-width="1.1"/>
<text x="619.21" y="835.50" font-size="8.2" font-weight="bold" stroke="#111" stroke-width="0.32" text-anchor="middle" fill="#111" transform="translate(0 -66.840) scale(1 1.08)" >150</text>
<text x="573.20" y="710.00" font-size="9.6" font-weight="bold" stroke="#111" stroke-width="0.32" text-anchor="middle" fill="#111" transform="translate(0 -56.800) scale(1 1.08)" >SK-N-BE(2)</text>
<text x="574.00" y="846.50" font-size="8.6" font-weight="bold" stroke="#111" stroke-width="0.32" text-anchor="middle" fill="#111" transform="translate(0 -67.720) scale(1 1.08)" >Recovery time (s)</text>
<text x="0" y="3.31" font-size="9.2" font-weight="bold" stroke="#1a1a1a" stroke-width="0.32" text-anchor="middle" fill="#1a1a1a" transform="translate(493.70 768.40) rotate(-90.00) scale(1 1.08)">Fluorenscence intensity</text>
<path d="M520.53 748.84 L526.70 813.20 L539.03 808.35 L551.37 804.20 L563.70 798.66 L576.04 792.44 L588.37 788.98 L600.70 785.52 L613.04 784.13" fill="none" stroke="#6aa0d8" stroke-width="1.3"/>
<line x1="539.03" y1="805.85" x2="539.03" y2="810.85" stroke="#6aa0d8" stroke-width="0.9"/>
<rect x="537.73" y="807.05" width="2.6" height="2.6" fill="#6aa0d8"/>
<line x1="551.37" y1="801.70" x2="551.37" y2="806.70" stroke="#6aa0d8" stroke-width="0.9"/>
<rect x="550.07" y="802.90" width="2.6" height="2.6" fill="#6aa0d8"/>
<line x1="563.70" y1="796.16" x2="563.70" y2="801.16" stroke="#6aa0d8" stroke-width="0.9"/>
<rect x="562.40" y="797.36" width="2.6" height="2.6" fill="#6aa0d8"/>
<line x1="576.04" y1="789.94" x2="576.04" y2="794.94" stroke="#6aa0d8" stroke-width="0.9"/>
<rect x="574.74" y="791.14" width="2.6" height="2.6" fill="#6aa0d8"/>
<line x1="588.37" y1="786.48" x2="588.37" y2="791.48" stroke="#6aa0d8" stroke-width="0.9"/>
<rect x="587.07" y="787.68" width="2.6" height="2.6" fill="#6aa0d8"/>
<line x1="600.70" y1="783.02" x2="600.70" y2="788.02" stroke="#6aa0d8" stroke-width="0.9"/>
<rect x="599.40" y="784.22" width="2.6" height="2.6" fill="#6aa0d8"/>
<line x1="613.04" y1="781.63" x2="613.04" y2="786.63" stroke="#6aa0d8" stroke-width="0.9"/>
<rect x="611.74" y="782.83" width="2.6" height="2.6" fill="#6aa0d8"/>
<path d="M520.53 748.84 L526.70 813.20 L539.03 802.82 L551.37 794.51 L563.70 787.59 L576.04 783.44 L588.37 779.98 L600.70 774.44 L613.04 770.29" fill="none" stroke="#a0a0a0" stroke-width="1.3"/>
<line x1="539.03" y1="800.32" x2="539.03" y2="805.32" stroke="#a0a0a0" stroke-width="0.9"/>
<rect x="537.73" y="801.52" width="2.6" height="2.6" fill="#a0a0a0"/>
<line x1="551.37" y1="792.01" x2="551.37" y2="797.01" stroke="#a0a0a0" stroke-width="0.9"/>
<rect x="550.07" y="793.21" width="2.6" height="2.6" fill="#a0a0a0"/>
<line x1="563.70" y1="785.09" x2="563.70" y2="790.09" stroke="#a0a0a0" stroke-width="0.9"/>
<rect x="562.40" y="786.29" width="2.6" height="2.6" fill="#a0a0a0"/>
<line x1="576.04" y1="780.94" x2="576.04" y2="785.94" stroke="#a0a0a0" stroke-width="0.9"/>
<rect x="574.74" y="782.14" width="2.6" height="2.6" fill="#a0a0a0"/>
<line x1="588.37" y1="777.48" x2="588.37" y2="782.48" stroke="#a0a0a0" stroke-width="0.9"/>
<rect x="587.07" y="778.68" width="2.6" height="2.6" fill="#a0a0a0"/>
<line x1="600.70" y1="771.94" x2="600.70" y2="776.94" stroke="#a0a0a0" stroke-width="0.9"/>
<rect x="599.40" y="773.14" width="2.6" height="2.6" fill="#a0a0a0"/>
<line x1="613.04" y1="767.79" x2="613.04" y2="772.79" stroke="#a0a0a0" stroke-width="0.9"/>
<rect x="611.74" y="768.99" width="2.6" height="2.6" fill="#a0a0a0"/>
<path d="M520.53 748.84 L526.70 813.20 L539.03 795.90 L551.37 787.59 L563.70 779.98 L576.04 772.37 L588.37 768.91 L600.70 765.45 L613.04 762.68" fill="none" stroke="#c02848" stroke-width="1.5"/>
<line x1="539.03" y1="793.40" x2="539.03" y2="798.40" stroke="#c02848" stroke-width="0.9"/>
<rect x="537.73" y="794.60" width="2.6" height="2.6" fill="#c02848"/>
<line x1="551.37" y1="785.09" x2="551.37" y2="790.09" stroke="#c02848" stroke-width="0.9"/>
<rect x="550.07" y="786.29" width="2.6" height="2.6" fill="#c02848"/>
<line x1="563.70" y1="777.48" x2="563.70" y2="782.48" stroke="#c02848" stroke-width="0.9"/>
<rect x="562.40" y="778.68" width="2.6" height="2.6" fill="#c02848"/>
<line x1="576.04" y1="769.87" x2="576.04" y2="774.87" stroke="#c02848" stroke-width="0.9"/>
<rect x="574.74" y="771.07" width="2.6" height="2.6" fill="#c02848"/>
<line x1="588.37" y1="766.41" x2="588.37" y2="771.41" stroke="#c02848" stroke-width="0.9"/>
<rect x="587.07" y="767.61" width="2.6" height="2.6" fill="#c02848"/>
<line x1="600.70" y1="762.95" x2="600.70" y2="767.95" stroke="#c02848" stroke-width="0.9"/>
<rect x="599.40" y="764.15" width="2.6" height="2.6" fill="#c02848"/>
<line x1="613.04" y1="760.18" x2="613.04" y2="765.18" stroke="#c02848" stroke-width="0.9"/>
<rect x="611.74" y="761.38" width="2.6" height="2.6" fill="#c02848"/>
<path d="M520.53 748.84 L526.70 813.20 L539.03 802.12 L551.37 793.13 L563.70 786.21 L576.04 782.06 L588.37 776.52 L600.70 775.14 L613.04 771.68" fill="none" stroke="#111111" stroke-width="1.7"/>
<line x1="539.03" y1="799.62" x2="539.03" y2="804.62" stroke="#111111" stroke-width="0.9"/>
<rect x="537.73" y="800.82" width="2.6" height="2.6" fill="#111111"/>
<line x1="551.37" y1="790.63" x2="551.37" y2="795.63" stroke="#111111" stroke-width="0.9"/>
<rect x="550.07" y="791.83" width="2.6" height="2.6" fill="#111111"/>
<line x1="563.70" y1="783.71" x2="563.70" y2="788.71" stroke="#111111" stroke-width="0.9"/>
<rect x="562.40" y="784.91" width="2.6" height="2.6" fill="#111111"/>
<line x1="576.04" y1="779.56" x2="576.04" y2="784.56" stroke="#111111" stroke-width="0.9"/>
<rect x="574.74" y="780.76" width="2.6" height="2.6" fill="#111111"/>
<line x1="588.37" y1="774.02" x2="588.37" y2="779.02" stroke="#111111" stroke-width="0.9"/>
<rect x="587.07" y="775.22" width="2.6" height="2.6" fill="#111111"/>
<line x1="600.70" y1="772.64" x2="600.70" y2="777.64" stroke="#111111" stroke-width="0.9"/>
<rect x="599.40" y="773.84" width="2.6" height="2.6" fill="#111111"/>
<line x1="613.04" y1="769.18" x2="613.04" y2="774.18" stroke="#111111" stroke-width="0.9"/>
<rect x="611.74" y="770.38" width="2.6" height="2.6" fill="#111111"/>
<path d="M620 762.5 H623.5 V782.6 H620" fill="none" stroke="#777" stroke-width="0.9"/>
<line x1="627.20" y1="763.30" x2="627.20" y2="768.30" stroke="#666" stroke-width="1.1"/>
<line x1="625.03" y1="764.55" x2="629.37" y2="767.05" stroke="#666" stroke-width="1.1"/>
<line x1="629.37" y1="764.55" x2="625.03" y2="767.05" stroke="#666" stroke-width="1.1"/>
<line x1="627.20" y1="770.10" x2="627.20" y2="775.10" stroke="#666" stroke-width="1.1"/>
<line x1="625.03" y1="771.35" x2="629.37" y2="773.85" stroke="#666" stroke-width="1.1"/>
<line x1="629.37" y1="771.35" x2="625.03" y2="773.85" stroke="#666" stroke-width="1.1"/>
<line x1="627.20" y1="776.90" x2="627.20" y2="781.90" stroke="#666" stroke-width="1.1"/>
<line x1="625.03" y1="778.15" x2="629.37" y2="780.65" stroke="#666" stroke-width="1.1"/>
<line x1="629.37" y1="778.15" x2="625.03" y2="780.65" stroke="#666" stroke-width="1.1"/>
<path d="M412.20 99.60 L412.20 47.10 A52.5 52.5 0 0 1 412.20 152.10 Z" fill="#e06a74" />
<path d="M412.20 99.60 L412.20 152.10 A52.5 52.5 0 0 1 412.20 47.10 Z" fill="#e08a90" />
<path d="M412.20 99.60 L412.20 47.10 A52.5 52.5 0 0 1 440.02 55.08 Z" fill="#f6d4da" />
<path d="M412.20 99.60 L440.02 55.08 A52.5 52.5 0 0 1 460.88 79.93 Z" fill="#efa6ae" />
<path d="M412.20 99.60 L460.88 79.93 A52.5 52.5 0 0 1 463.55 110.52 Z" fill="#e27c84" />
<path d="M412.20 99.60 L463.55 110.52 A52.5 52.5 0 0 1 449.32 136.72 Z" fill="#d95860" />
<path d="M412.20 99.60 L449.32 136.72 A52.5 52.5 0 0 1 412.20 152.10 Z" fill="#cf3a44" />
<path d="M412.20 99.60 L412.20 152.10 A52.5 52.5 0 0 1 370.83 131.92 Z" fill="#f2b4b8" />
<path d="M412.20 99.60 L370.83 131.92 A52.5 52.5 0 0 1 362.56 82.51 Z" fill="#e48c90" />
<path d="M412.20 99.60 L362.56 82.51 A52.5 52.5 0 0 1 369.19 69.49 Z" fill="#cc3a42" />
<path d="M369.73 68.74 Q414.20 89.60 420.20 93.60 L417.20 96.60 Q410.20 91.60 371.63 66.28 Z" fill="#d0404a" fill-opacity="0.85"/>
<path d="M372.46 65.30 Q414.20 89.60 420.20 93.60 L417.20 96.60 Q410.20 91.60 374.56 63.00 Z" fill="#d0404a" fill-opacity="0.85"/>
<path d="M375.47 62.09 Q414.20 89.60 420.20 93.60 L417.20 96.60 Q410.20 91.60 377.76 59.98 Z" fill="#d0404a" fill-opacity="0.85"/>
<path d="M378.74 59.15 Q414.20 89.60 420.20 93.60 L417.20 96.60 Q410.20 91.60 381.19 57.23 Z" fill="#d0404a" fill-opacity="0.85"/>
<path d="M382.24 56.49 Q414.20 89.60 420.20 93.60 L417.20 96.60 Q410.20 91.60 384.85 54.79 Z" fill="#d0404a" fill-opacity="0.85"/>
<path d="M385.95 54.13 Q414.20 89.60 420.20 93.60 L417.20 96.60 Q410.20 91.60 388.69 52.66 Z" fill="#d0404a" fill-opacity="0.85"/>
<path d="M389.85 52.10 Q414.20 89.60 420.20 93.60 L417.20 96.60 Q410.20 91.60 392.70 50.85 Z" fill="#d0404a" fill-opacity="0.85"/>
<path d="M393.90 50.39 Q414.20 89.60 420.20 93.60 L417.20 96.60 Q410.20 91.60 396.85 49.39 Z" fill="#d0404a" fill-opacity="0.85"/>
<path d="M398.08 49.03 Q414.20 89.60 420.20 93.60 L417.20 96.60 Q410.20 91.60 401.11 48.29 Z" fill="#d0404a" fill-opacity="0.85"/>
<path d="M402.36 48.03 Q414.20 89.60 420.20 93.60 L417.20 96.60 Q410.20 91.60 405.44 47.54 Z" fill="#d0404a" fill-opacity="0.85"/>
<path d="M406.71 47.39 Q414.20 89.60 420.20 93.60 L417.20 96.60 Q410.20 91.60 409.82 47.15 Z" fill="#d0404a" fill-opacity="0.85"/>
<path d="M418.20 91.60 L439.44 70.24 L436.38 67.67 Z" fill="#fdf0f2" fill-opacity="0.92"/>
<path d="M418.20 91.60 L455.18 85.50 L451.44 77.09 Z" fill="#fdf0f2" fill-opacity="0.92"/>
<path d="M418.20 91.60 L457.88 107.00 L458.40 97.01 Z" fill="#fdf0f2" fill-opacity="0.92"/>
<path d="M418.20 91.60 L449.52 125.09 L453.59 117.74 Z" fill="#fdf0f2" fill-opacity="0.92"/>
<path d="M418.20 91.60 L436.90 133.70 L441.50 129.85 Z" fill="#fdf0f2" fill-opacity="0.92"/>
<path d="M418.20 91.60 L427.58 136.60 L431.89 134.50 Z" fill="#fdf0f2" fill-opacity="0.92"/>
<path d="M418.20 91.60 L418.12 135.15 L421.25 134.48 Z" fill="#fdf0f2" fill-opacity="0.92"/>
<line x1="412.2" y1="47.099999999999994" x2="412.2" y2="152.1" stroke="#b82a34" stroke-width="0.7"/>
<path d="M454.63 69.89 A51.8 51.8 0 0 1 414.01 151.37 L413.96 150.07 A50.5 50.5 0 0 0 453.57 70.63 Z" fill="#fbe8ea"/>
<path d="M412.20 43.40 A56.2 56.2 0 0 1 440.55 51.08 L438.54 54.53 A52.2 52.2 0 0 0 412.20 47.40 Z" fill="#3a3a8a"/>
<path d="M440.30 50.93 A56.2 56.2 0 0 1 456.67 65.23 L453.50 67.68 A52.2 52.2 0 0 0 438.30 54.39 Z" fill="#9a86c2"/>
<path d="M456.49 65.00 A56.2 56.2 0 0 1 411.91 155.80 L411.93 151.80 A52.2 52.2 0 0 0 453.33 67.46 Z" fill="#e07a8c"/>
<path d="M412.20 155.80 A56.2 56.2 0 0 1 402.15 154.89 L402.87 150.96 A52.2 52.2 0 0 0 412.20 151.80 Z" fill="#181018"/>
<path d="M402.44 154.95 A56.2 56.2 0 0 1 385.56 149.08 L387.45 145.56 A52.2 52.2 0 0 0 403.14 151.01 Z" fill="#3a1e50"/>
<path d="M385.82 149.22 A56.2 56.2 0 0 1 368.96 135.50 L372.04 132.94 A52.2 52.2 0 0 0 387.69 145.69 Z" fill="#5e2c8a"/>
<path d="M369.15 135.72 A56.2 56.2 0 0 1 359.29 118.54 L363.06 117.20 A52.2 52.2 0 0 0 372.21 133.15 Z" fill="#8a3a9a"/>
<path d="M359.39 118.82 A56.2 56.2 0 0 1 356.24 94.41 L360.22 94.78 A52.2 52.2 0 0 0 363.15 117.45 Z" fill="#bc4078"/>
<path d="M356.21 94.70 A56.2 56.2 0 0 1 361.39 75.58 L365.01 77.29 A52.2 52.2 0 0 0 360.20 95.05 Z" fill="#d84c66"/>
<path d="M361.27 75.85 A56.2 56.2 0 0 1 374.81 57.64 L377.47 60.63 A52.2 52.2 0 0 0 364.89 77.54 Z" fill="#e86a56"/>
<path d="M374.59 57.84 A56.2 56.2 0 0 1 391.42 47.38 L392.90 51.10 A52.2 52.2 0 0 0 377.27 60.81 Z" fill="#f09a6a"/>
<path d="M391.15 47.49 A56.2 56.2 0 0 1 412.49 43.40 L412.47 47.40 A52.2 52.2 0 0 0 392.65 51.20 Z" fill="#f4c898"/>
<circle cx="412.2" cy="99.6" r="56.2" fill="none" stroke="#c06070" stroke-opacity="0.35" stroke-width="0.5"/>
<text x="410.82" y="43.32" font-size="6.5" font-weight="bold" stroke="#1a1a1a" stroke-width="0.25" text-anchor="end" fill="#1a1a1a" transform="rotate(448.60 410.82 43.32)" dy="2.3">NUP54</text>
<text x="405.43" y="43.71" font-size="6.5" font-weight="bold" stroke="#1a1a1a" stroke-width="0.25" text-anchor="end" fill="#1a1a1a" transform="rotate(443.10 405.43 43.71)" dy="2.3">NUP93</text>
<text x="400.10" y="44.61" font-size="6.5" font-weight="bold" stroke="#1a1a1a" stroke-width="0.25" text-anchor="end" fill="#1a1a1a" transform="rotate(437.59 400.10 44.61)" dy="2.3">NUP62</text>
<text x="394.89" y="46.03" font-size="6.5" font-weight="bold" stroke="#1a1a1a" stroke-width="0.25" text-anchor="end" fill="#1a1a1a" transform="rotate(432.09 394.89 46.03)" dy="2.3">NUP50</text>
<text x="389.83" y="47.94" font-size="6.5" font-weight="bold" stroke="#1a1a1a" stroke-width="0.25" text-anchor="end" fill="#1a1a1a" transform="rotate(426.59 389.83 47.94)" dy="2.3">NUP98</text>
<text x="384.98" y="50.32" font-size="6.5" font-weight="bold" stroke="#1a1a1a" stroke-width="0.25" text-anchor="end" fill="#1a1a1a" transform="rotate(421.08 384.98 50.32)" dy="2.3">IPO5</text>
<text x="380.38" y="53.16" font-size="6.5" font-weight="bold" stroke="#1a1a1a" stroke-width="0.25" text-anchor="end" fill="#1a1a1a" transform="rotate(415.58 380.38 53.16)" dy="2.3">SEC13</text>
<text x="376.07" y="56.42" font-size="6.5" font-weight="bold" stroke="#1a1a1a" stroke-width="0.25" text-anchor="end" fill="#1a1a1a" transform="rotate(410.08 376.07 56.42)" dy="2.3">NFATC1</text>
<text x="372.10" y="60.09" font-size="6.5" font-weight="bold" stroke="#1a1a1a" stroke-width="0.25" text-anchor="end" fill="#1a1a1a" transform="rotate(404.58 372.10 60.09)" dy="2.3">PRKAG2</text>
<text x="368.49" y="64.11" font-size="6.5" font-weight="bold" stroke="#1a1a1a" stroke-width="0.25" text-anchor="end" fill="#1a1a1a" transform="rotate(399.07 368.49 64.11)" dy="2.3">CCDC14</text>
<text x="365.29" y="68.47" font-size="6.5" font-weight="bold" stroke="#1a1a1a" stroke-width="0.25" text-anchor="end" fill="#1a1a1a" transform="rotate(393.57 365.29 68.47)" dy="2.3">VPS4B</text>
<text x="362.52" y="73.11" font-size="6.5" font-weight="bold" stroke="#1a1a1a" stroke-width="0.25" text-anchor="end" fill="#1a1a1a" transform="rotate(388.07 362.52 73.11)" dy="2.3">DYRK3</text>
<text x="360.21" y="78.00" font-size="6.5" font-weight="bold" stroke="#1a1a1a" stroke-width="0.25" text-anchor="end" fill="#1a1a1a" transform="rotate(382.56 360.21 78.00)" dy="2.3">HMGB2</text>
<text x="358.38" y="83.08" font-size="6.5" font-weight="bold" stroke="#1a1a1a" stroke-width="0.25" text-anchor="end" fill="#1a1a1a" transform="rotate(377.06 358.38 83.08)" dy="2.3">CITED1</text>
<text x="357.04" y="88.32" font-size="6.5" font-weight="bold" stroke="#1a1a1a" stroke-width="0.25" text-anchor="end" fill="#1a1a1a" transform="rotate(371.56 357.04 88.32)" dy="2.3">MND1</text>
<text x="356.21" y="93.66" font-size="6.5" font-weight="bold" stroke="#1a1a1a" stroke-width="0.25" text-anchor="end" fill="#1a1a1a" transform="rotate(366.05 356.21 93.66)" dy="2.3">BRIP1</text>
<text x="355.90" y="99.06" font-size="6.5" font-weight="bold" stroke="#1a1a1a" stroke-width="0.25" text-anchor="end" fill="#1a1a1a" transform="rotate(360.55 355.90 99.06)" dy="2.3">CHEK2</text>
<text x="356.11" y="104.46" font-size="6.5" font-weight="bold" stroke="#1a1a1a" stroke-width="0.25" text-anchor="end" fill="#1a1a1a" transform="rotate(355.05 356.11 104.46)" dy="2.3">RECQL4</text>
<text x="356.83" y="109.82" font-size="6.5" font-weight="bold" stroke="#1a1a1a" stroke-width="0.25" text-anchor="end" fill="#1a1a1a" transform="rotate(349.54 356.83 109.82)" dy="2.3">RAB2A</text>
<text x="358.07" y="115.08" font-size="6.5" font-weight="bold" stroke="#1a1a1a" stroke-width="0.25" text-anchor="end" fill="#1a1a1a" transform="rotate(344.04 358.07 115.08)" dy="2.3">PSMB1</text>
<text x="359.80" y="120.20" font-size="6.5" font-weight="bold" stroke="#1a1a1a" stroke-width="0.25" text-anchor="end" fill="#1a1a1a" transform="rotate(338.54 359.80 120.20)" dy="2.3">POLD1</text>
<text x="362.02" y="125.13" font-size="6.5" font-weight="bold" stroke="#1a1a1a" stroke-width="0.25" text-anchor="end" fill="#1a1a1a" transform="rotate(333.03 362.02 125.13)" dy="2.3">MCM5</text>
<text x="364.70" y="129.82" font-size="6.5" font-weight="bold" stroke="#1a1a1a" stroke-width="0.25" text-anchor="end" fill="#1a1a1a" transform="rotate(327.53 364.70 129.82)" dy="2.3">LIG1</text>
<text x="367.82" y="134.24" font-size="6.5" font-weight="bold" stroke="#1a1a1a" stroke-width="0.25" text-anchor="end" fill="#1a1a1a" transform="rotate(322.03 367.82 134.24)" dy="2.3">CDC25C</text>
<text x="371.34" y="138.34" font-size="6.5" font-weight="bold" stroke="#1a1a1a" stroke-width="0.25" text-anchor="end" fill="#1a1a1a" transform="rotate(316.52 371.34 138.34)" dy="2.3">BRCA1</text>
<text x="375.25" y="142.08" font-size="6.5" font-weight="bold" stroke="#1a1a1a" stroke-width="0.25" text-anchor="end" fill="#1a1a1a" transform="rotate(311.02 375.25 142.08)" dy="2.3">AFG3L2</text>
<text x="379.49" y="145.42" font-size="6.5" font-weight="bold" stroke="#1a1a1a" stroke-width="0.25" text-anchor="end" fill="#1a1a1a" transform="rotate(305.52 379.49 145.42)" dy="2.3">VPS4A</text>
<text x="384.04" y="148.35" font-size="6.5" font-weight="bold" stroke="#1a1a1a" stroke-width="0.25" text-anchor="end" fill="#1a1a1a" transform="rotate(300.02 384.04 148.35)" dy="2.3">ARFIP2</text>
<text x="388.84" y="150.83" font-size="6.5" font-weight="bold" stroke="#1a1a1a" stroke-width="0.25" text-anchor="end" fill="#1a1a1a" transform="rotate(294.51 388.84 150.83)" dy="2.3">STX5</text>
<text x="393.86" y="152.83" font-size="6.5" font-weight="bold" stroke="#1a1a1a" stroke-width="0.25" text-anchor="end" fill="#1a1a1a" transform="rotate(289.01 393.86 152.83)" dy="2.3">ARHGEF2</text>
<text x="399.05" y="154.34" font-size="6.5" font-weight="bold" stroke="#1a1a1a" stroke-width="0.25" text-anchor="end" fill="#1a1a1a" transform="rotate(283.51 399.05 154.34)" dy="2.3">CLTCL1</text>
<text x="404.36" y="155.35" font-size="6.5" font-weight="bold" stroke="#1a1a1a" stroke-width="0.25" text-anchor="end" fill="#1a1a1a" transform="rotate(278.00 404.36 155.35)" dy="2.3">MAP1A</text>
<text x="409.74" y="155.85" font-size="6.5" font-weight="bold" stroke="#1a1a1a" stroke-width="0.25" text-anchor="end" fill="#1a1a1a" transform="rotate(272.50 409.74 155.85)" dy="2.3">AP2B1</text>
<text x="353.00" y="192.80" font-size="6.5" font-weight="bold" stroke="#222" stroke-width="0.1" text-anchor="start" fill="#222" >Pathway</text>
<circle cx="356.2" cy="196.8" r="3.0" fill="#fbe4e8"/>
<text x="360.20" y="199.20" font-size="6.5" font-weight="bold" stroke="#222" stroke-width="0.12" text-anchor="start" fill="#222" >Nuclear pore organization</text>
<circle cx="356.2" cy="206.0" r="3.0" fill="#f2b8c0"/>
<text x="360.20" y="208.40" font-size="6.5" font-weight="bold" stroke="#222" stroke-width="0.12" text-anchor="start" fill="#222" >Intracellular protein transport</text>
<circle cx="356.2" cy="215.0" r="3.0" fill="#e88a92"/>
<text x="360.20" y="217.40" font-size="6.5" font-weight="bold" stroke="#222" stroke-width="0.12" text-anchor="start" fill="#222" >Cell Cycle</text>
<circle cx="356.2" cy="223.8" r="3.0" fill="#dc646c"/>
<text x="360.20" y="226.20" font-size="6.5" font-weight="bold" stroke="#222" stroke-width="0.12" text-anchor="start" fill="#222" >Nuclear transport</text>
<circle cx="356.2" cy="232.3" r="3.0" fill="#d6505a"/>
<text x="360.20" y="234.70" font-size="6.5" font-weight="bold" stroke="#222" stroke-width="0.12" text-anchor="start" fill="#222" >Nucleocytoplasmic transport</text>
<circle cx="356.2" cy="240.9" r="3.0" fill="#cc3e48"/>
<text x="360.20" y="243.30" font-size="6.5" font-weight="bold" stroke="#222" stroke-width="0.12" text-anchor="start" fill="#222" >Protein localization to nucleus</text>
<circle cx="356.2" cy="249.3" r="3.0" fill="#b8323c"/>
<text x="360.20" y="251.70" font-size="6.5" font-weight="bold" stroke="#222" stroke-width="0.12" text-anchor="start" fill="#222" >Nucleus organization</text>
<circle cx="356.2" cy="257.6" r="3.0" fill="#9e2a32"/>
<text x="360.20" y="260.00" font-size="6.5" font-weight="bold" stroke="#222" stroke-width="0.12" text-anchor="start" fill="#222" >Nuclear pore complex</text>
<text x="394.50" y="277.00" font-size="6.8" font-weight="bold" stroke="#222" stroke-width="0.12" text-anchor="middle" fill="#222" >-log2 (P-value)</text>
<rect x="353.6" y="278.2" width="76" height="10.4" fill="url(#cbar)"/>
<line x1="361.00" y1="288.6" x2="361.00" y2="290.6" stroke="#333" stroke-width="0.6"/>
<text x="361.00" y="298.80" font-size="6.8" font-weight="bold" stroke="#222" stroke-width="0.12" text-anchor="middle" fill="#222" >5.0</text>
<line x1="373.24" y1="288.6" x2="373.24" y2="290.6" stroke="#333" stroke-width="0.6"/>
<text x="373.24" y="298.80" font-size="6.8" font-weight="bold" stroke="#222" stroke-width="0.12" text-anchor="middle" fill="#222" >5.5</text>
<line x1="385.48" y1="288.6" x2="385.48" y2="290.6" stroke="#333" stroke-width="0.6"/>
<text x="385.48" y="298.80" font-size="6.8" font-weight="bold" stroke="#222" stroke-width="0.12" text-anchor="middle" fill="#222" >6.0</text>
<line x1="397.72" y1="288.6" x2="397.72" y2="290.6" stroke="#333" stroke-width="0.6"/>
<text x="397.72" y="298.80" font-size="6.8" font-weight="bold" stroke="#222" stroke-width="0.12" text-anchor="middle" fill="#222" >6.5</text>
<line x1="409.96" y1="288.6" x2="409.96" y2="290.6" stroke="#333" stroke-width="0.6"/>
<text x="409.96" y="298.80" font-size="6.8" font-weight="bold" stroke="#222" stroke-width="0.12" text-anchor="middle" fill="#222" >7.0</text>
<line x1="422.20" y1="288.6" x2="422.20" y2="290.6" stroke="#333" stroke-width="0.6"/>
<text x="422.20" y="298.80" font-size="6.8" font-weight="bold" stroke="#222" stroke-width="0.12" text-anchor="middle" fill="#222" >7.5</text>
<path d="M521 121 H613 V172 Q613 180 605 180 H529 Q521 180 521 172 Z" fill="url(#bodyg)" stroke="#f0b48a" stroke-width="0.7"/>
<path d="M521 123 Q543 127 544 150 Q543 175 526 179 L521 179 Z" fill="#fbd4b4" stroke="#eeaa7c" stroke-width="0.7"/>
<path d="M613 123 Q591 127 590 150 Q591 175 608 179 L613 179 Z" fill="#fbd4b4" stroke="#eeaa7c" stroke-width="0.7"/>
<path d="M563.5 148.8 C563.4 149.6 560.9 150.5 560.1 151.5 C559.4 152.5 559.7 155.1 559.0 155.1 C558.2 155.0 556.3 152.6 555.7 151.1 C555.1 149.7 554.9 147.3 555.3 146.3 C555.8 145.2 557.6 144.7 558.5 144.8 C559.4 144.9 559.9 146.3 560.7 147.0 C561.5 147.6 563.6 148.1 563.5 148.8 Z" fill="none" stroke="#ee6a22" stroke-width="1.05"/>
<path d="M578.3 161.9 C577.8 163.0 575.6 163.4 574.3 164.2 C573.1 164.9 571.7 166.5 571.1 166.4 C570.4 166.2 570.9 164.5 570.6 163.3 C570.4 162.1 569.1 160.4 569.4 159.1 C569.7 157.9 571.0 156.1 572.3 155.9 C573.6 155.6 576.3 156.5 577.3 157.6 C578.3 158.6 578.8 160.8 578.3 161.9 Z" fill="none" stroke="#ee6a22" stroke-width="1.05"/>
<path d="M570.5 159.0 C570.2 160.1 566.5 161.2 565.5 161.8 C564.4 162.4 565.1 162.9 564.2 162.6 C563.3 162.3 560.6 160.8 560.0 160.0 C559.5 159.1 560.5 158.2 561.0 157.4 C561.6 156.6 562.4 155.7 563.3 155.3 C564.3 154.9 565.7 154.6 566.9 155.2 C568.1 155.8 570.7 157.9 570.5 159.0 Z" fill="none" stroke="#ee6a22" stroke-width="1.05"/>
<path d="M577.2 163.9 C577.1 165.4 575.1 168.7 573.9 169.1 C572.7 169.4 571.5 167.0 570.0 166.2 C568.5 165.5 565.3 165.7 564.8 164.7 C564.4 163.7 566.4 161.0 567.4 160.2 C568.3 159.4 569.5 159.9 570.7 159.9 C571.9 159.9 573.6 159.5 574.7 160.2 C575.8 160.8 577.3 162.5 577.2 163.9 Z" fill="none" stroke="#ee6a22" stroke-width="1.05"/>
<path d="M566.6 131.8 C566.9 132.9 565.9 133.6 564.8 133.9 C563.7 134.2 561.3 133.6 559.7 133.5 C558.2 133.5 555.8 134.3 555.6 133.5 C555.3 132.7 557.5 129.8 558.2 128.8 C558.9 127.9 559.0 128.0 559.8 127.8 C560.7 127.7 561.9 127.2 563.0 127.8 C564.1 128.5 566.3 130.8 566.6 131.8 Z" fill="none" stroke="#ee6a22" stroke-width="1.05"/>
<path d="M571.0 166.6 C570.7 167.4 570.2 168.3 569.7 169.1 C569.2 169.8 568.8 171.2 568.0 171.1 C567.3 170.9 566.2 169.0 565.3 168.1 C564.3 167.2 562.2 167.1 562.3 165.9 C562.4 164.7 564.6 161.2 566.1 161.0 C567.6 160.7 570.6 163.5 571.4 164.5 C572.2 165.4 571.3 165.9 571.0 166.6 Z" fill="none" stroke="#ee6a22" stroke-width="1.05"/>
<path d="M571.4 148.7 C571.7 149.7 570.7 151.7 569.5 152.3 C568.4 152.9 565.7 152.5 564.4 152.3 C563.2 152.0 562.1 151.7 561.8 150.8 C561.6 150.0 562.2 148.4 563.0 147.2 C563.9 146.0 566.0 143.9 566.9 143.7 C567.7 143.6 567.5 145.5 568.2 146.3 C569.0 147.2 571.2 147.7 571.4 148.7 Z" fill="none" stroke="#ee6a22" stroke-width="1.05"/>
<path d="M569.7 149.2 C569.2 150.3 567.5 152.0 566.5 152.9 C565.5 153.8 564.5 154.9 563.7 154.8 C562.8 154.6 561.8 153.1 561.3 151.9 C560.7 150.7 560.0 148.3 560.4 147.7 C560.8 147.0 562.1 148.5 563.6 148.2 C565.1 148.0 568.4 145.9 569.4 146.1 C570.4 146.3 570.2 148.1 569.7 149.2 Z" fill="none" stroke="#ee6a22" stroke-width="1.05"/>
<path d="M562.8 146.0 C562.9 146.9 562.4 147.8 561.6 148.5 C560.9 149.3 559.3 150.7 558.3 150.6 C557.3 150.5 555.9 149.0 555.7 148.0 C555.4 146.9 556.5 145.5 556.9 144.3 C557.3 143.0 557.4 140.7 558.1 140.4 C558.7 140.2 560.0 142.0 560.8 142.9 C561.6 143.8 562.7 145.1 562.8 146.0 Z" fill="none" stroke="#ee6a22" stroke-width="1.05"/>
<path d="M583.1 136.5 C582.8 137.4 581.2 139.0 580.5 139.8 C579.7 140.5 579.4 141.4 578.5 141.1 C577.5 140.9 575.2 139.3 574.8 138.4 C574.5 137.4 576.0 136.3 576.4 135.4 C576.8 134.4 576.3 132.6 577.3 132.5 C578.3 132.4 581.4 134.0 582.3 134.6 C583.3 135.3 583.4 135.7 583.1 136.5 Z" fill="none" stroke="#ee6a22" stroke-width="1.05"/>
<path d="M561.4 132.8 C561.4 134.0 561.4 137.3 560.9 137.9 C560.3 138.5 559.2 137.0 558.0 136.3 C556.7 135.7 553.7 135.0 553.2 134.0 C552.7 133.1 554.4 131.2 555.0 130.4 C555.5 129.6 555.5 129.4 556.5 129.4 C557.5 129.4 560.0 129.8 560.8 130.3 C561.6 130.9 561.4 131.5 561.4 132.8 Z" fill="none" stroke="#ee6a22" stroke-width="1.05"/>
<path d="M566.6 144.1 C566.1 145.2 564.4 146.0 563.7 147.1 C563.1 148.2 564.2 150.8 562.9 150.5 C561.7 150.3 557.2 147.1 556.2 145.7 C555.1 144.2 555.6 142.6 556.7 141.8 C557.8 141.0 560.9 141.1 562.6 140.9 C564.3 140.6 566.1 139.7 566.7 140.3 C567.4 140.8 567.1 142.9 566.6 144.1 Z" fill="none" stroke="#ee6a22" stroke-width="1.05"/>
<path d="M577.7 147.8 C577.4 148.6 576.7 149.4 575.9 150.1 C575.1 150.8 573.6 151.9 572.9 151.7 C572.1 151.6 571.8 150.1 571.3 148.9 C570.8 147.8 569.3 146.0 569.8 144.9 C570.3 143.8 572.7 142.1 574.0 142.2 C575.4 142.2 577.1 144.4 577.7 145.3 C578.3 146.2 578.0 147.0 577.7 147.8 Z" fill="none" stroke="#ee6a22" stroke-width="1.05"/>
<path d="M560.8 140.1 C560.8 141.7 561.3 143.8 560.3 144.4 C559.4 144.9 556.6 143.6 555.1 143.4 C553.6 143.2 551.9 144.1 551.3 143.0 C550.6 142.0 550.4 138.4 551.1 137.3 C551.7 136.2 553.7 136.9 555.2 136.6 C556.6 136.2 558.9 134.7 559.9 135.3 C560.8 135.9 560.7 138.6 560.8 140.1 Z" fill="none" stroke="#ee6a22" stroke-width="1.05"/>
<path d="M561.7 160.3 C561.6 161.0 558.6 160.4 557.3 161.1 C556.1 161.8 555.0 164.5 554.4 164.6 C553.8 164.6 553.9 162.4 553.5 161.2 C553.0 160.1 551.5 158.6 551.8 157.5 C552.0 156.4 554.0 154.7 555.0 154.6 C556.0 154.6 556.9 156.3 558.0 157.2 C559.2 158.1 561.8 159.7 561.7 160.3 Z" fill="none" stroke="#ee6a22" stroke-width="1.05"/>
<path d="M556.8 147.2 C557.2 148.3 557.4 150.6 556.6 151.3 C555.8 152.0 553.1 151.6 552.0 151.4 C550.9 151.1 550.6 150.6 550.0 149.8 C549.4 149.0 548.0 147.6 548.5 146.5 C548.9 145.5 551.7 143.9 552.7 143.6 C553.7 143.3 553.7 144.1 554.4 144.6 C555.1 145.2 556.5 146.1 556.8 147.2 Z" fill="none" stroke="#ee6a22" stroke-width="1.05"/>
<path d="M567.4 152.3 C567.2 153.7 566.6 155.4 565.8 156.0 C565.0 156.5 563.9 155.8 562.7 155.5 C561.5 155.1 559.3 154.9 558.7 153.9 C558.0 152.9 557.9 150.5 558.6 149.5 C559.2 148.6 561.2 148.5 562.6 148.2 C564.0 147.9 566.0 146.8 566.8 147.5 C567.6 148.2 567.6 150.8 567.4 152.3 Z" fill="none" stroke="#ee6a22" stroke-width="1.05"/>
<path d="M558.6 144.3 C558.2 145.5 555.6 147.3 554.2 148.2 C552.8 149.1 550.9 149.8 550.0 149.6 C549.2 149.4 549.5 148.1 549.0 147.0 C548.4 145.9 546.5 144.7 547.0 143.3 C547.4 141.9 550.2 138.9 551.8 138.6 C553.4 138.2 555.3 140.2 556.5 141.2 C557.6 142.1 559.0 143.1 558.6 144.3 Z" fill="none" stroke="#ee6a22" stroke-width="1.05"/>
<path d="M581.1 148.8 C581.1 150.0 579.9 151.1 579.0 151.7 C578.0 152.3 576.2 152.4 575.4 152.5 C574.6 152.5 574.4 152.6 574.2 151.8 C573.9 151.1 574.0 149.1 573.9 148.0 C573.8 146.8 572.7 145.4 573.5 144.9 C574.4 144.3 577.7 144.0 578.9 144.7 C580.2 145.4 581.1 147.7 581.1 148.8 Z" fill="none" stroke="#ee6a22" stroke-width="1.05"/>
<path d="M578.9 161.9 C578.5 163.0 576.6 162.5 575.5 162.9 C574.4 163.4 573.2 165.1 572.5 164.8 C571.9 164.6 572.0 162.8 571.5 161.5 C570.9 160.2 568.9 157.8 569.1 157.1 C569.3 156.4 571.0 157.4 572.5 157.3 C574.0 157.1 577.0 155.4 578.0 156.2 C579.1 157.0 579.3 160.8 578.9 161.9 Z" fill="none" stroke="#ee6a22" stroke-width="1.05"/>
<path d="M563.6 134.3 C563.6 135.2 561.7 137.7 560.7 138.5 C559.8 139.3 559.1 139.3 558.1 139.1 C557.2 138.8 555.8 138.0 555.1 137.2 C554.5 136.3 553.7 135.2 554.3 134.1 C554.9 133.1 557.8 131.1 559.0 130.9 C560.1 130.7 560.2 132.3 561.0 132.9 C561.8 133.4 563.7 133.3 563.6 134.3 Z" fill="none" stroke="#ee6a22" stroke-width="1.05"/>
<path d="M579.4 158.0 C579.7 159.1 579.1 161.0 578.1 161.4 C577.1 161.8 574.7 160.3 573.5 160.3 C572.2 160.2 571.0 161.9 570.6 161.0 C570.3 160.0 570.9 156.0 571.4 154.5 C571.8 153.1 572.6 152.3 573.5 152.3 C574.4 152.3 575.5 153.4 576.5 154.3 C577.5 155.3 579.2 156.8 579.4 158.0 Z" fill="none" stroke="#ee6a22" stroke-width="1.05"/>
<path d="M560.6 150.5 C560.7 151.9 561.2 155.2 560.5 156.2 C559.9 157.1 558.1 156.6 556.6 156.1 C555.2 155.7 552.4 154.8 552.0 153.7 C551.6 152.5 553.3 150.0 554.0 149.1 C554.7 148.3 555.2 148.7 556.2 148.4 C557.1 148.2 558.9 147.3 559.6 147.7 C560.4 148.0 560.4 149.0 560.6 150.5 Z" fill="none" stroke="#ee6a22" stroke-width="1.05"/>
<path d="M561.8 141.5 C562.1 142.6 562.3 145.2 561.2 146.1 C560.1 147.0 556.9 147.1 555.2 146.8 C553.5 146.6 551.4 146.0 551.0 144.7 C550.5 143.4 551.8 140.5 552.4 139.2 C553.1 137.9 553.8 136.8 554.9 136.8 C556.1 136.9 558.2 138.7 559.4 139.5 C560.5 140.2 561.5 140.3 561.8 141.5 Z" fill="none" stroke="#ee6a22" stroke-width="1.05"/>
<path d="M572.1 136.1 C572.2 137.9 571.4 141.6 570.2 142.3 C569.1 143.0 566.4 140.6 565.4 140.1 C564.3 139.6 564.6 139.8 564.0 139.1 C563.4 138.3 561.2 136.9 561.7 135.6 C562.2 134.2 565.4 131.5 566.8 130.9 C568.1 130.2 568.9 130.9 569.8 131.8 C570.7 132.7 572.1 134.4 572.1 136.1 Z" fill="none" stroke="#ee6a22" stroke-width="1.05"/>
<path d="M564.1 144.9 C564.5 146.2 566.5 147.5 565.9 148.1 C565.4 148.6 562.5 148.7 560.9 148.4 C559.3 148.2 557.1 147.3 556.5 146.5 C555.9 145.8 556.9 145.0 557.5 143.9 C558.1 142.9 559.1 140.8 560.1 140.2 C561.1 139.6 562.9 139.5 563.6 140.3 C564.3 141.0 563.7 143.6 564.1 144.9 Z" fill="none" stroke="#ee6a22" stroke-width="1.05"/>
<path d="M587.4 143.3 C587.5 144.7 588.6 145.8 588.1 146.8 C587.6 147.8 585.5 149.8 584.4 149.3 C583.3 148.8 582.1 145.3 581.6 143.8 C581.1 142.4 581.0 141.6 581.4 140.6 C581.8 139.6 583.1 138.0 584.1 137.7 C585.0 137.4 586.6 137.9 587.1 138.8 C587.7 139.7 587.2 142.0 587.4 143.3 Z" fill="none" stroke="#ee6a22" stroke-width="1.05"/>
<path d="M579.0 158.7 C578.8 160.1 576.6 163.6 575.6 164.2 C574.5 164.8 573.7 162.8 572.8 162.3 C571.9 161.8 570.6 162.1 570.0 161.1 C569.4 160.2 568.7 157.4 569.2 156.6 C569.7 155.8 571.7 156.4 573.0 156.3 C574.3 156.1 576.0 155.4 577.0 155.8 C578.0 156.2 579.3 157.3 579.0 158.7 Z" fill="none" stroke="#ee6a22" stroke-width="1.05"/>
<path d="M559.4 163.0 C559.3 164.3 558.3 164.7 557.7 165.5 C557.1 166.4 556.7 168.2 555.8 168.0 C554.9 167.9 552.6 165.8 552.1 164.5 C551.6 163.2 552.2 161.3 552.7 160.5 C553.3 159.7 554.4 160.1 555.4 159.7 C556.4 159.2 557.9 157.2 558.6 157.8 C559.3 158.3 559.6 161.7 559.4 163.0 Z" fill="none" stroke="#ee6a22" stroke-width="1.05"/>
<path d="M581.1 149.7 C580.9 150.9 580.9 151.6 580.1 152.0 C579.3 152.3 577.0 151.8 576.0 151.6 C575.0 151.4 574.4 151.5 574.0 150.7 C573.7 149.9 573.6 147.8 574.0 146.9 C574.3 146.0 574.7 145.6 575.8 145.3 C577.0 144.9 579.9 144.2 580.8 144.9 C581.6 145.6 581.2 148.6 581.1 149.7 Z" fill="none" stroke="#ee6a22" stroke-width="1.05"/>
<path d="M566.2 160.2 C566.2 160.9 566.0 161.9 565.0 162.8 C564.1 163.8 561.5 166.0 560.6 166.0 C559.8 166.1 560.6 164.2 560.1 163.0 C559.6 161.8 557.3 160.1 557.7 158.9 C558.1 157.7 561.3 155.6 562.5 155.5 C563.7 155.5 564.1 157.9 564.8 158.7 C565.4 159.5 566.1 159.5 566.2 160.2 Z" fill="none" stroke="#ee6a22" stroke-width="1.05"/>
<path d="M569.1 135.6 C568.8 136.8 567.9 137.5 567.0 137.9 C566.0 138.2 564.8 138.1 563.3 138.0 C561.9 137.9 558.8 138.0 558.5 137.2 C558.2 136.3 560.5 134.0 561.3 132.9 C562.1 131.8 562.2 131.1 563.4 130.8 C564.7 130.5 567.8 130.1 568.7 130.9 C569.7 131.7 569.4 134.5 569.1 135.6 Z" fill="none" stroke="#ee6a22" stroke-width="1.05"/>
<path d="M579.1 140.6 C579.3 142.1 578.5 143.3 577.8 144.1 C577.2 144.9 576.3 145.7 575.1 145.2 C573.9 144.8 571.2 142.5 570.5 141.2 C569.8 140.0 570.4 138.7 570.8 137.7 C571.2 136.8 571.9 135.8 572.9 135.4 C573.8 135.1 575.4 134.7 576.5 135.5 C577.5 136.4 578.8 139.2 579.1 140.6 Z" fill="none" stroke="#ee6a22" stroke-width="1.05"/>
<path d="M579.6 145.6 C579.3 146.9 575.9 147.4 574.5 148.1 C573.2 148.8 572.0 150.0 571.3 149.9 C570.6 149.9 570.4 148.8 570.3 147.9 C570.2 147.0 570.3 146.0 570.6 144.5 C570.8 143.1 571.0 139.9 572.0 139.2 C573.0 138.5 575.2 139.2 576.5 140.3 C577.7 141.3 579.9 144.3 579.6 145.6 Z" fill="none" stroke="#ee6a22" stroke-width="1.05"/>
<circle cx="520.5" cy="143.5" r="5.2" fill="#fbd0aa" stroke="#f0b080" stroke-width="0.5"/>
<circle cx="520.5" cy="155" r="5.2" fill="#fbd0aa" stroke="#f0b080" stroke-width="0.5"/>
<circle cx="614" cy="143.5" r="5.2" fill="#fbd0aa" stroke="#f0b080" stroke-width="0.5"/>
<circle cx="614" cy="155" r="5.2" fill="#fbd0aa" stroke="#f0b080" stroke-width="0.5"/>
<path d="M471.5 133.8 H513 A18 18 0 0 1 513 169.9 H471.5" fill="none" stroke="#78b83a" stroke-width="5.8"/>
<path d="M678 133.8 H626 A18 18 0 0 0 626 169.9 H678" fill="none" stroke="#78b83a" stroke-width="5.8"/>
<text x="476.00" y="135.60" font-size="4.5" stroke="#2a4a1a" stroke-width="0.05" text-anchor="start" fill="#2a4a1a" >ONM</text>
<text x="476.00" y="171.80" font-size="4.5" stroke="#2a4a1a" stroke-width="0.05" text-anchor="start" fill="#2a4a1a" >INM</text>
<path d="M507 114 C507 101 540 97.5 568 97.5 C596 97.5 629 101 629 114 C629 122 623 125.2 613 125.2 L523 125.2 C513 125.2 507 122 507 114 Z" fill="url(#ringg)"/>
<path d="M512 117 C514 110 530 109 544 112 C546 118 544 123 536 124 L520 124 C514 123 511 121 512 117 Z" fill="#e6806a" fill-opacity="0.7"/>
<path d="M624 117 C622 110 606 109 592 112 C590 118 592 123 600 124 L616 124 C622 123 625 121 624 117 Z" fill="#e6806a" fill-opacity="0.7"/>
<path d="M525 104 C545 99 590 99 611 104" fill="none" stroke="#f4866a" stroke-width="2" stroke-opacity="0.6"/>
<circle cx="527.00" cy="68.0" r="4.5" fill="url(#bead)" stroke="#c04a34" stroke-width="0.5"/>
<circle cx="523.50" cy="74.0" r="4.5" fill="url(#bead)" stroke="#c04a34" stroke-width="0.5"/>
<circle cx="530.10" cy="79.0" r="4.6" fill="url(#bead)" stroke="#c04a34" stroke-width="0.5"/>
<circle cx="525.50" cy="84.5" r="4.9" fill="url(#bead)" stroke="#c04a34" stroke-width="0.5"/>
<circle cx="522.50" cy="89.5" r="5.2" fill="url(#bead)" stroke="#c04a34" stroke-width="0.5"/>
<circle cx="529.10" cy="94.5" r="5.5" fill="url(#bead)" stroke="#c04a34" stroke-width="0.5"/>
<circle cx="524.50" cy="100.0" r="6.0" fill="url(#bead)" stroke="#c04a34" stroke-width="0.5"/>
<circle cx="553.50" cy="68.0" r="4.5" fill="url(#bead)" stroke="#c04a34" stroke-width="0.5"/>
<circle cx="550.00" cy="74.0" r="4.5" fill="url(#bead)" stroke="#c04a34" stroke-width="0.5"/>
<circle cx="556.60" cy="79.0" r="4.6" fill="url(#bead)" stroke="#c04a34" stroke-width="0.5"/>
<circle cx="552.00" cy="84.5" r="4.9" fill="url(#bead)" stroke="#c04a34" stroke-width="0.5"/>
<circle cx="549.00" cy="89.5" r="5.2" fill="url(#bead)" stroke="#c04a34" stroke-width="0.5"/>
<circle cx="555.60" cy="94.5" r="5.5" fill="url(#bead)" stroke="#c04a34" stroke-width="0.5"/>
<circle cx="551.00" cy="100.0" r="6.0" fill="url(#bead)" stroke="#c04a34" stroke-width="0.5"/>
<circle cx="583.50" cy="68.0" r="4.5" fill="url(#bead)" stroke="#c04a34" stroke-width="0.5"/>
<circle cx="580.00" cy="74.0" r="4.5" fill="url(#bead)" stroke="#c04a34" stroke-width="0.5"/>
<circle cx="586.60" cy="79.0" r="4.6" fill="url(#bead)" stroke="#c04a34" stroke-width="0.5"/>
<circle cx="582.00" cy="84.5" r="4.9" fill="url(#bead)" stroke="#c04a34" stroke-width="0.5"/>
<circle cx="579.00" cy="89.5" r="5.2" fill="url(#bead)" stroke="#c04a34" stroke-width="0.5"/>
<circle cx="585.60" cy="94.5" r="5.5" fill="url(#bead)" stroke="#c04a34" stroke-width="0.5"/>
<circle cx="581.00" cy="100.0" r="6.0" fill="url(#bead)" stroke="#c04a34" stroke-width="0.5"/>
<circle cx="613.30" cy="68.0" r="4.5" fill="url(#bead)" stroke="#c04a34" stroke-width="0.5"/>
<circle cx="609.80" cy="74.0" r="4.5" fill="url(#bead)" stroke="#c04a34" stroke-width="0.5"/>
<circle cx="616.40" cy="79.0" r="4.6" fill="url(#bead)" stroke="#c04a34" stroke-width="0.5"/>
<circle cx="611.80" cy="84.5" r="4.9" fill="url(#bead)" stroke="#c04a34" stroke-width="0.5"/>
<circle cx="608.80" cy="89.5" r="5.2" fill="url(#bead)" stroke="#c04a34" stroke-width="0.5"/>
<circle cx="615.40" cy="94.5" r="5.5" fill="url(#bead)" stroke="#c04a34" stroke-width="0.5"/>
<circle cx="610.80" cy="100.0" r="6.0" fill="url(#bead)" stroke="#c04a34" stroke-width="0.5"/>
<path d="M524 184 Q541 222 542 252 L592.5 252 Q593.5 222 610.5 184 Z" fill="url(#basg)" stroke="#3a70bc" stroke-width="0.8"/>
<path d="M516 179 Q567 170 619 179 L617 191 Q567 183 518 191 Z" fill="#86b0e6" stroke="#3a70bc" stroke-width="0.7"/>
<ellipse cx="527.7" cy="185.7" rx="14" ry="9.6" fill="url(#knob)" stroke="#2a64b0" stroke-width="0.6"/>
<ellipse cx="606.8" cy="185.7" rx="14" ry="9.6" fill="url(#knob)" stroke="#2a64b0" stroke-width="0.6"/>
<ellipse cx="551.2" cy="217.5" rx="3.9" ry="29.5" transform="rotate(-11 551.2 217.5)" fill="#fff" stroke="#3a70bc" stroke-width="0.7"/>
<ellipse cx="567.4" cy="216.5" rx="5.2" ry="30.5" fill="#fff" stroke="#3a70bc" stroke-width="0.7"/>
<ellipse cx="583.6" cy="217.5" rx="3.9" ry="29.5" transform="rotate(11 583.6 217.5)" fill="#fff" stroke="#3a70bc" stroke-width="0.7"/>
<path d="M541 249 Q567 241 593.5 249 L593.5 257 Q567 249 541 257 Z" fill="#7aa8e2" stroke="#3a70bc" stroke-width="0.7"/>
<ellipse cx="545.3" cy="255" rx="6" ry="5.6" fill="url(#knob)" stroke="#2a64b0" stroke-width="0.5"/>
<ellipse cx="589.2" cy="255" rx="6" ry="5.6" fill="url(#knob)" stroke="#2a64b0" stroke-width="0.5"/>
<text x="567.50" y="280.80" font-size="9.6" font-weight="bold" stroke="#111" stroke-width="0.32" text-anchor="middle" fill="#111" transform="translate(0 -14.040) scale(1 1.05)" >NPC proteins</text>
<path d="M517.5 46 H539.3 V102 M527.6 46 V66" fill="none" stroke="#555" stroke-width="0.5"/>
<path d="M567.5 46.5 H627 M567.5 46.5 V142.7" fill="none" stroke="#555" stroke-width="0.5"/>
<path d="M596.4 61 H627 M596.4 61 V122.8" fill="none" stroke="#555" stroke-width="0.5"/>
<path d="M633.4 98 V150.7 H598.4" fill="none" stroke="#555" stroke-width="0.5"/>
<path d="M610.5 197 L616.7 209.5 L594 219.9 M616.7 209.5 H629" fill="none" stroke="#555" stroke-width="0.5"/>
<text x="472.70" y="45.60" font-size="4.6" stroke="#333" stroke-width="0.05" text-anchor="start" fill="#333" >ytoplasmic ring and</text>
<text x="472.70" y="51.40" font-size="4.6" stroke="#333" stroke-width="0.05" text-anchor="start" fill="#333" >ytoplasmic filaments</text>
<text x="629.00" y="38.20" font-size="4.6" stroke="#333" stroke-width="0.05" text-anchor="start" fill="#333" >Central channel</text>
<text x="629.20" y="96.80" font-size="4.6" stroke="#333" stroke-width="0.05" text-anchor="start" fill="#333" >Scaffold</text>
<text x="629.50" y="207.50" font-size="4.4" stroke="#333" stroke-width="0.05" text-anchor="start" fill="#333" >Nuclear ring and</text>
<text x="629.50" y="213.80" font-size="4.4" stroke="#333" stroke-width="0.05" text-anchor="start" fill="#333" >nuclear basket</text>
<rect x="476" y="53.6" width="15.60" height="11.49" fill="#fff" stroke="#e8c8a0" stroke-width="0.4"/>
<rect x="477.00" y="54.60" width="8.58" height="1.72" fill="#333" fill-opacity="0.55"/>
<rect x="477.00" y="58.43" width="8.58" height="1.72" fill="#333" fill-opacity="0.55"/>
<line x1="476" y1="57.43" x2="491.6" y2="57.43" stroke="#e8c8a0" stroke-width="0.3"/>
<rect x="477.00" y="62.26" width="8.58" height="1.72" fill="#333" fill-opacity="0.55"/>
<line x1="476" y1="61.26" x2="491.6" y2="61.26" stroke="#e8c8a0" stroke-width="0.3"/>
<rect x="628.7" y="38.9" width="18.90" height="32.80" fill="#fff" stroke="#e8c8a0" stroke-width="0.4"/>
<rect x="629.70" y="39.90" width="10.39" height="1.84" fill="#333" fill-opacity="0.55"/>
<rect x="629.70" y="44.00" width="10.39" height="1.84" fill="#c03040" fill-opacity="0.55"/>
<line x1="628.7" y1="43.00" x2="647.6" y2="43.00" stroke="#e8c8a0" stroke-width="0.3"/>
<rect x="629.70" y="48.10" width="10.39" height="1.84" fill="#333" fill-opacity="0.55"/>
<line x1="628.7" y1="47.10" x2="647.6" y2="47.10" stroke="#e8c8a0" stroke-width="0.3"/>
<rect x="629.70" y="52.20" width="10.39" height="1.84" fill="#c03040" fill-opacity="0.55"/>
<line x1="628.7" y1="51.20" x2="647.6" y2="51.20" stroke="#e8c8a0" stroke-width="0.3"/>
<rect x="629.70" y="56.30" width="10.39" height="1.84" fill="#c03040" fill-opacity="0.55"/>
<line x1="628.7" y1="55.30" x2="647.6" y2="55.30" stroke="#e8c8a0" stroke-width="0.3"/>
<rect x="629.70" y="60.40" width="10.39" height="1.84" fill="#333" fill-opacity="0.55"/>
<line x1="628.7" y1="59.40" x2="647.6" y2="59.40" stroke="#e8c8a0" stroke-width="0.3"/>
<rect x="629.70" y="64.50" width="10.39" height="1.84" fill="#c03040" fill-opacity="0.55"/>
<line x1="628.7" y1="63.50" x2="647.6" y2="63.50" stroke="#e8c8a0" stroke-width="0.3"/>
<rect x="629.70" y="68.60" width="10.39" height="1.84" fill="#333" fill-opacity="0.55"/>
<line x1="628.7" y1="67.60" x2="647.6" y2="67.60" stroke="#e8c8a0" stroke-width="0.3"/>
<rect x="651.4" y="69.8" width="15.10" height="57.30" fill="#fff" stroke="#e8c8a0" stroke-width="0.4"/>
<rect x="652.40" y="70.80" width="8.31" height="1.72" fill="#333" fill-opacity="0.55"/>
<rect x="652.40" y="74.62" width="8.31" height="1.72" fill="#333" fill-opacity="0.55"/>
<line x1="651.4" y1="73.62" x2="666.5" y2="73.62" stroke="#e8c8a0" stroke-width="0.3"/>
<rect x="652.40" y="78.44" width="8.31" height="1.72" fill="#333" fill-opacity="0.55"/>
<line x1="651.4" y1="77.44" x2="666.5" y2="77.44" stroke="#e8c8a0" stroke-width="0.3"/>
<rect x="652.40" y="82.26" width="8.31" height="1.72" fill="#333" fill-opacity="0.55"/>
<line x1="651.4" y1="81.26" x2="666.5" y2="81.26" stroke="#e8c8a0" stroke-width="0.3"/>
<rect x="652.40" y="86.08" width="8.31" height="1.72" fill="#333" fill-opacity="0.55"/>
<line x1="651.4" y1="85.08" x2="666.5" y2="85.08" stroke="#e8c8a0" stroke-width="0.3"/>
<rect x="652.40" y="89.90" width="8.31" height="1.72" fill="#333" fill-opacity="0.55"/>
<line x1="651.4" y1="88.90" x2="666.5" y2="88.90" stroke="#e8c8a0" stroke-width="0.3"/>
<rect x="652.40" y="93.72" width="8.31" height="1.72" fill="#333" fill-opacity="0.55"/>
<line x1="651.4" y1="92.72" x2="666.5" y2="92.72" stroke="#e8c8a0" stroke-width="0.3"/>
<rect x="652.40" y="97.54" width="8.31" height="1.72" fill="#333" fill-opacity="0.55"/>
<line x1="651.4" y1="96.54" x2="666.5" y2="96.54" stroke="#e8c8a0" stroke-width="0.3"/>
<rect x="652.40" y="101.36" width="8.31" height="1.72" fill="#333" fill-opacity="0.55"/>
<line x1="651.4" y1="100.36" x2="666.5" y2="100.36" stroke="#e8c8a0" stroke-width="0.3"/>
<rect x="652.40" y="105.18" width="8.31" height="1.72" fill="#333" fill-opacity="0.55"/>
<line x1="651.4" y1="104.18" x2="666.5" y2="104.18" stroke="#e8c8a0" stroke-width="0.3"/>
<rect x="652.40" y="109.00" width="8.31" height="1.72" fill="#333" fill-opacity="0.55"/>
<line x1="651.4" y1="108.00" x2="666.5" y2="108.00" stroke="#e8c8a0" stroke-width="0.3"/>
<rect x="652.40" y="112.82" width="8.31" height="1.72" fill="#c03040" fill-opacity="0.55"/>
<line x1="651.4" y1="111.82" x2="666.5" y2="111.82" stroke="#e8c8a0" stroke-width="0.3"/>
<rect x="652.40" y="116.64" width="8.31" height="1.72" fill="#333" fill-opacity="0.55"/>
<line x1="651.4" y1="115.64" x2="666.5" y2="115.64" stroke="#e8c8a0" stroke-width="0.3"/>
<rect x="652.40" y="120.46" width="8.31" height="1.72" fill="#333" fill-opacity="0.55"/>
<line x1="651.4" y1="119.46" x2="666.5" y2="119.46" stroke="#e8c8a0" stroke-width="0.3"/>
<rect x="652.40" y="124.28" width="8.31" height="1.72" fill="#333" fill-opacity="0.55"/>
<line x1="651.4" y1="123.28" x2="666.5" y2="123.28" stroke="#e8c8a0" stroke-width="0.3"/>
<rect x="496" y="145.8" width="15.40" height="12.21" fill="#fff" stroke="#e8c8a0" stroke-width="0.4"/>
<rect x="497.00" y="146.80" width="8.47" height="1.83" fill="#333" fill-opacity="0.55"/>
<rect x="497.00" y="150.87" width="8.47" height="1.83" fill="#333" fill-opacity="0.55"/>
<line x1="496" y1="149.87" x2="511.4" y2="149.87" stroke="#e8c8a0" stroke-width="0.3"/>
<rect x="497.00" y="154.94" width="8.47" height="1.83" fill="#333" fill-opacity="0.55"/>
<line x1="496" y1="153.94" x2="511.4" y2="153.94" stroke="#e8c8a0" stroke-width="0.3"/>
<rect x="629.5" y="217.6" width="17.50" height="18.90" fill="#fff" stroke="#e8c8a0" stroke-width="0.4"/>
<rect x="630.50" y="218.60" width="9.62" height="1.70" fill="#c03040" fill-opacity="0.55"/>
<rect x="630.50" y="222.38" width="9.62" height="1.70" fill="#333" fill-opacity="0.55"/>
<line x1="629.5" y1="221.38" x2="647" y2="221.38" stroke="#e8c8a0" stroke-width="0.3"/>
<rect x="630.50" y="226.16" width="9.62" height="1.70" fill="#c03040" fill-opacity="0.55"/>
<line x1="629.5" y1="225.16" x2="647" y2="225.16" stroke="#e8c8a0" stroke-width="0.3"/>
<rect x="630.50" y="229.94" width="9.62" height="1.70" fill="#333" fill-opacity="0.55"/>
<line x1="629.5" y1="228.94" x2="647" y2="228.94" stroke="#e8c8a0" stroke-width="0.3"/>
<rect x="630.50" y="233.72" width="9.62" height="1.70" fill="#333" fill-opacity="0.55"/>
<line x1="629.5" y1="232.72" x2="647" y2="232.72" stroke="#e8c8a0" stroke-width="0.3"/>
</svg></body></html>
